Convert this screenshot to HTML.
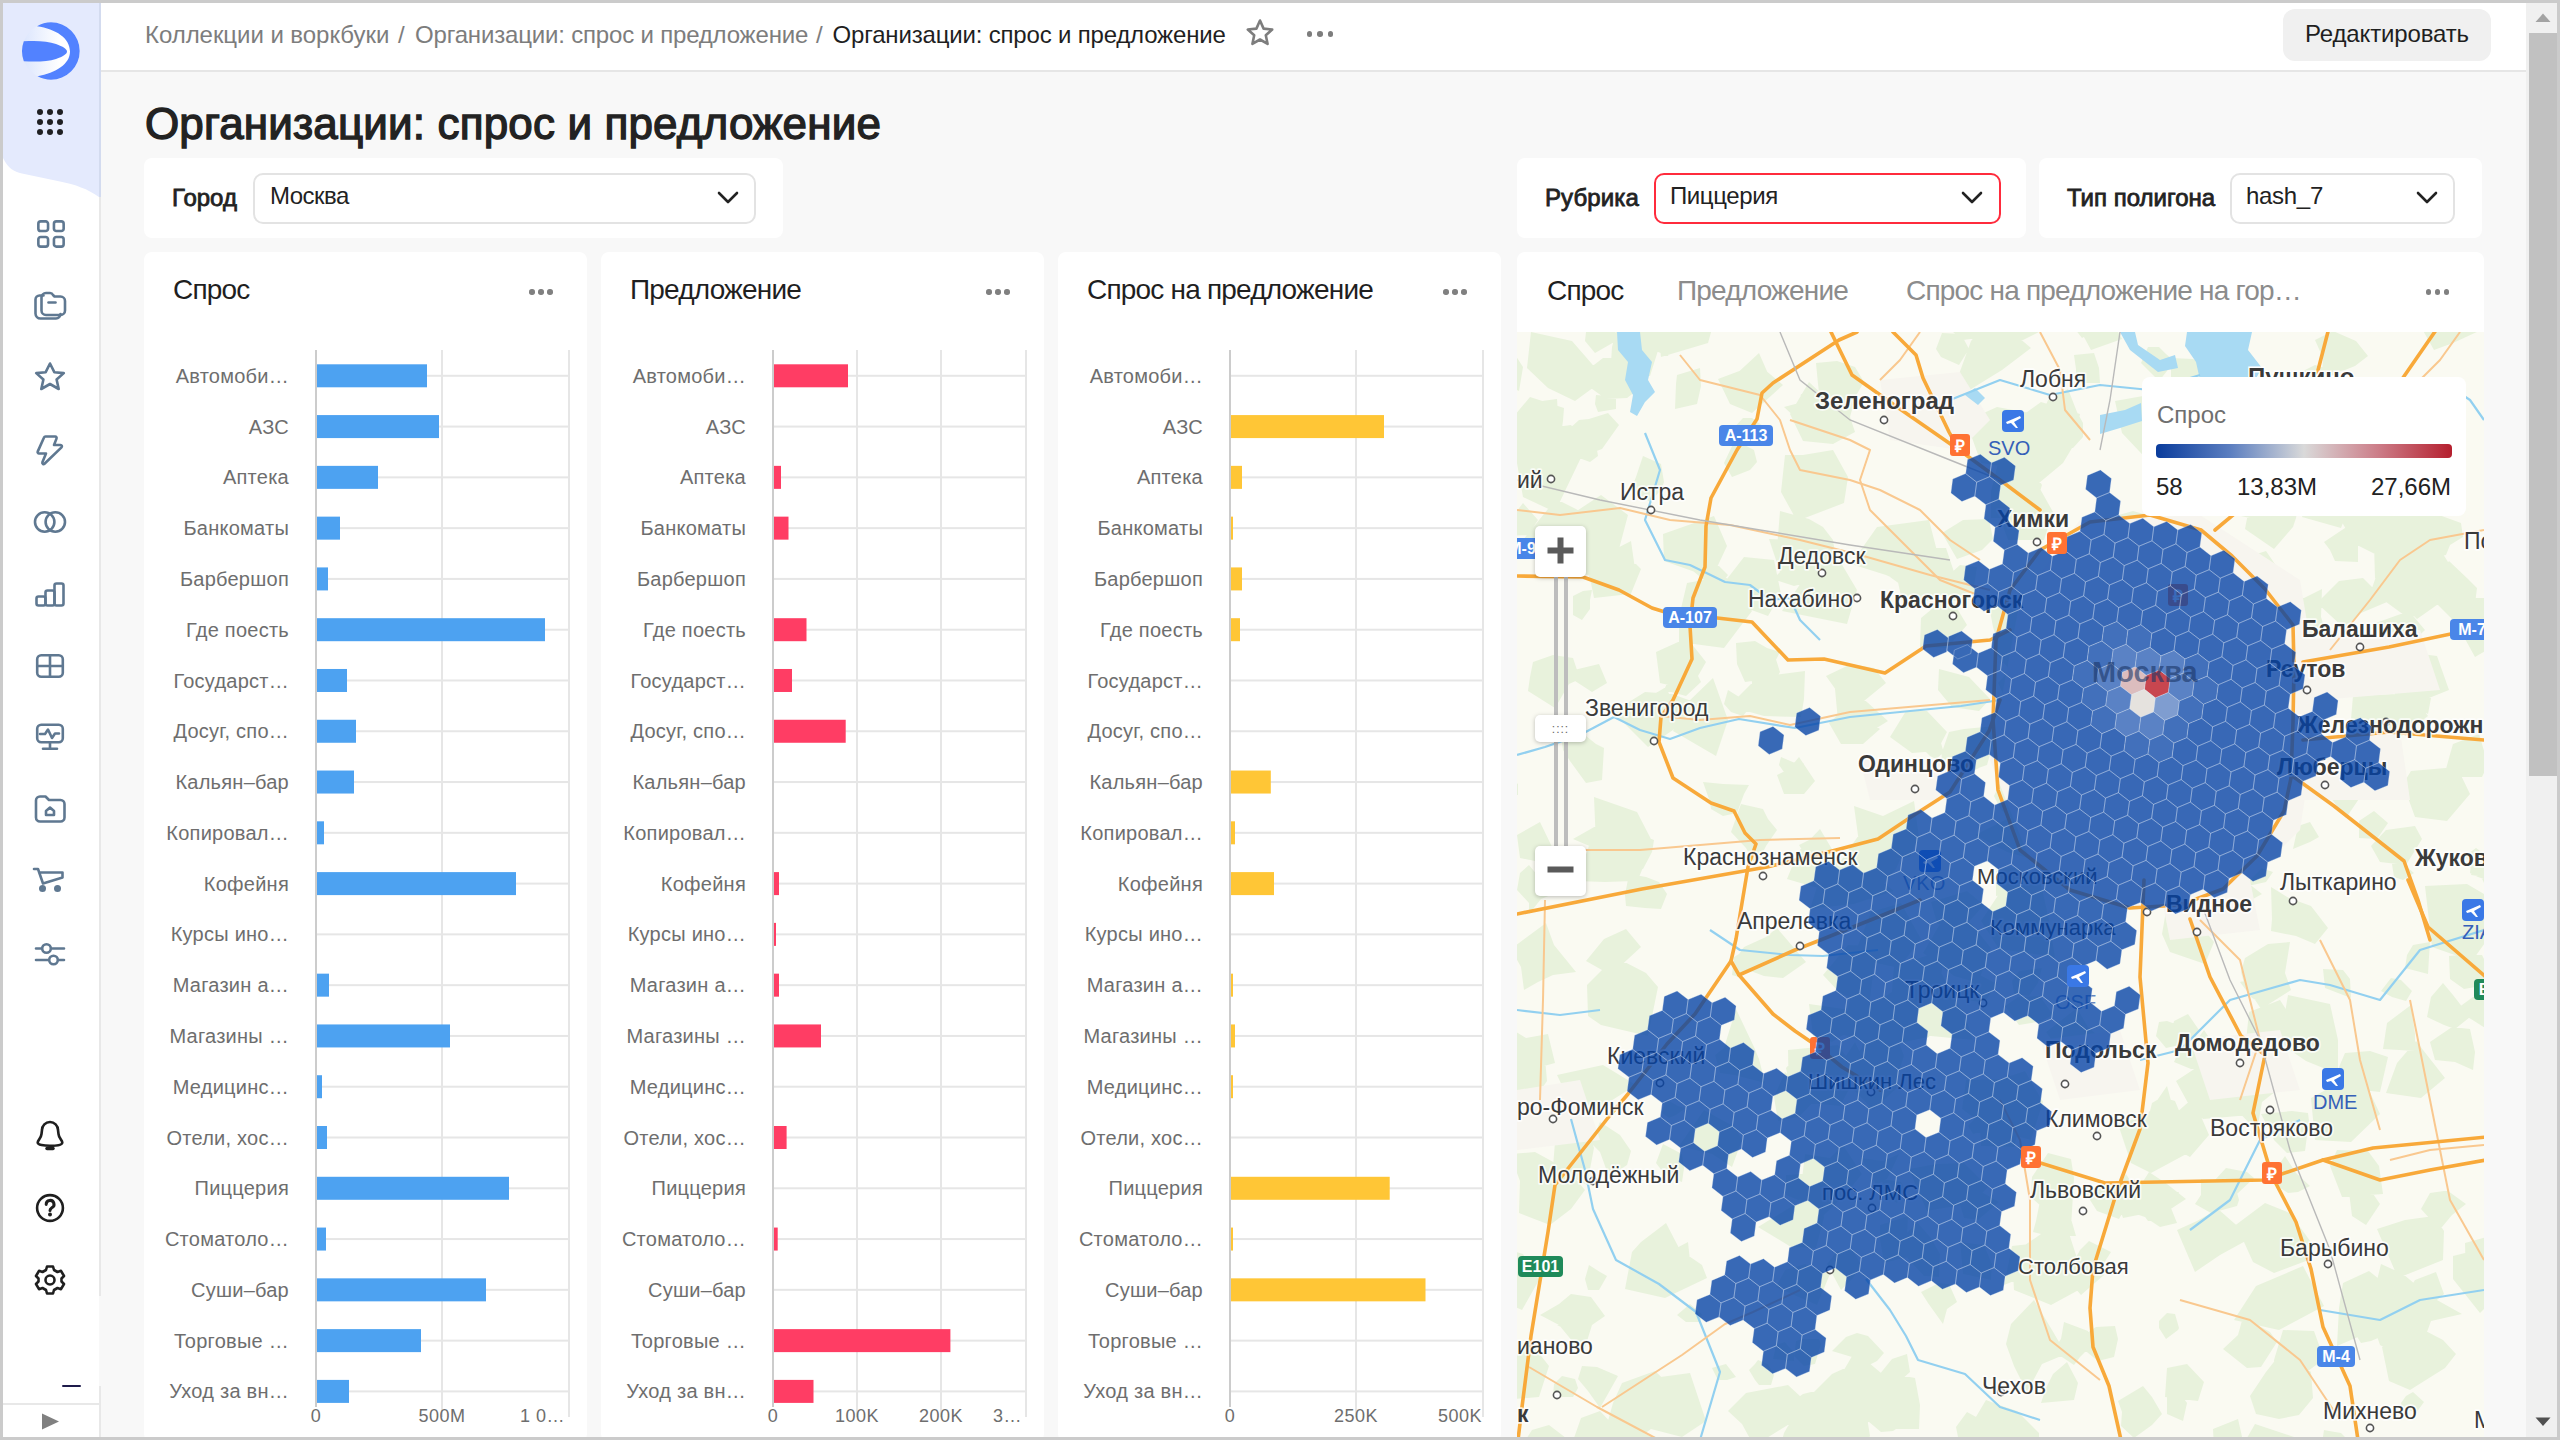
<!DOCTYPE html><html><head><meta charset="utf-8"><style>
*{margin:0;padding:0;box-sizing:border-box}
html,body{width:2560px;height:1440px;overflow:hidden;background:#cbcbcb;font-family:"Liberation Sans",sans-serif}
.a{position:absolute}
.t{position:absolute;line-height:1;white-space:nowrap}
svg{position:absolute;overflow:visible}
</style></head><body><div class="a" style="left:3px;top:3px;width:2554px;height:1434px;background:#f8f8f8;"></div>
<div class="a" style="left:101px;top:3px;width:2425px;height:68px;background:#ffffff;"></div>
<div class="a" style="left:101px;top:70px;width:2425px;height:2px;background:#e6e6e6;"></div>
<div class="a" style="left:3px;top:3px;width:96px;height:1434px;background:#ffffff;"></div>
<div class="a" style="left:99px;top:3px;width:2px;height:1293px;background:#e8e8e8;"></div>
<div class="a" style="left:99px;top:1386px;width:2px;height:51px;background:#e8e8e8;"></div>
<div class="a" style="left:3px;top:1403px;width:98px;height:2px;background:#e8e8e8;"></div>
<svg style="left:0;top:0" width="110" height="210"><path d="M3 3H99V197C88 189 75 184.5 60 181.5L22 173.5C14 172 8 168 3 158Z" fill="#e4eafd"/><rect x="99" y="3" width="2" height="194" fill="#d3dbef"/></svg>
<div class="a" style="left:36.9px;top:108.9px;width:6.2px;height:6.2px;border-radius:50%;background:#1f2023"></div>
<div class="a" style="left:46.9px;top:108.9px;width:6.2px;height:6.2px;border-radius:50%;background:#1f2023"></div>
<div class="a" style="left:56.9px;top:108.9px;width:6.2px;height:6.2px;border-radius:50%;background:#1f2023"></div>
<div class="a" style="left:36.9px;top:118.9px;width:6.2px;height:6.2px;border-radius:50%;background:#1f2023"></div>
<div class="a" style="left:46.9px;top:118.9px;width:6.2px;height:6.2px;border-radius:50%;background:#1f2023"></div>
<div class="a" style="left:56.9px;top:118.9px;width:6.2px;height:6.2px;border-radius:50%;background:#1f2023"></div>
<div class="a" style="left:36.9px;top:128.9px;width:6.2px;height:6.2px;border-radius:50%;background:#1f2023"></div>
<div class="a" style="left:46.9px;top:128.9px;width:6.2px;height:6.2px;border-radius:50%;background:#1f2023"></div>
<div class="a" style="left:56.9px;top:128.9px;width:6.2px;height:6.2px;border-radius:50%;background:#1f2023"></div>
<svg style="left:31.0px;top:213.7px" width="40" height="40" viewBox="-20 -20 40 40" fill="none" stroke="#5f7891" stroke-width="2.6" stroke-linecap="round" stroke-linejoin="round"><rect x="-12.65" y="-12.65" width="9.7" height="9.7" rx="2.4"/><rect x="2.95" y="-12.65" width="9.7" height="9.7" rx="2.4"/><rect x="-12.65" y="2.95" width="9.7" height="9.7" rx="2.4"/><rect x="2.95" y="2.95" width="9.7" height="9.7" rx="2.4"/></svg>
<svg style="left:30.0px;top:286.0px" width="40" height="40" viewBox="-20 -20 40 40" fill="none" stroke="#5f7891" stroke-width="2.6" stroke-linecap="round" stroke-linejoin="round"><path d="M-6.5 -10.5H-10.5A4 4 0 0 0 -14.5 -6.5V7.5A5 5 0 0 0 -9.5 12.5H6A4.5 4.5 0 0 0 10.5 8"/><path d="M-8.5 -8.5A4.5 4.5 0 0 1 -4 -13H0A3.5 3.5 0 0 1 3 -11L4.5 -9.5H10.5A4.5 4.5 0 0 1 15 -5V4.5A4.5 4.5 0 0 1 10.5 9H-4A4.5 4.5 0 0 1 -8.5 4.5Z"/><path d="M-1.5 -3.5H5.5"/></svg>
<svg style="left:30.0px;top:357.0px" width="40" height="40" viewBox="-20 -20 40 40" fill="none" stroke="#5f7891" stroke-width="2.6" stroke-linecap="round" stroke-linejoin="round"><path d="M0 -13.5L4.3 -4.8L13.8 -3.9L6.6 2.5L8.7 12L0 7L-8.7 12L-6.6 2.5L-13.8 -3.9L-4.3 -4.8Z"/></svg>
<svg style="left:30.0px;top:429.6px" width="40" height="40" viewBox="-20 -20 40 40" fill="none" stroke="#5f7891" stroke-width="2.6" stroke-linecap="round" stroke-linejoin="round"><path d="M-4.5 -13.5H5.2A1.5 1.5 0 0 1 6.5 -11.4L4 -5H10.5A1.4 1.4 0 0 1 11.5 -2.6L-5.5 13.7A1.3 1.3 0 0 1 -7.6 12.3L-4 3.5H-11A1.4 1.4 0 0 1 -12.3 1.6L-6 -12.5A1.6 1.6 0 0 1 -4.5 -13.5Z"/></svg>
<svg style="left:30.0px;top:502.0px" width="40" height="40" viewBox="-20 -20 40 40" fill="none" stroke="#5f7891" stroke-width="2.6" stroke-linecap="round" stroke-linejoin="round"><circle cx="-5.3" cy="0" r="9.7"/><circle cx="5.3" cy="0" r="9.7"/></svg>
<svg style="left:30.0px;top:574.0px" width="40" height="40" viewBox="-20 -20 40 40" fill="none" stroke="#5f7891" stroke-width="2.6" stroke-linecap="round" stroke-linejoin="round"><rect x="-13.5" y="2.5" width="9" height="9" rx="2"/><rect x="-4.5" y="-3.5" width="9" height="15" rx="2"/><rect x="4.5" y="-10.5" width="9" height="22" rx="2"/></svg>
<svg style="left:29.5px;top:645.7px" width="40" height="40" viewBox="-20 -20 40 40" fill="none" stroke="#5f7891" stroke-width="2.6" stroke-linecap="round" stroke-linejoin="round"><rect x="-12.8" y="-10.8" width="25.6" height="21.6" rx="4"/><path d="M-12.8 0H12.8M0 -10.8V10.8"/></svg>
<svg style="left:29.5px;top:717.4px" width="40" height="40" viewBox="-20 -20 40 40" fill="none" stroke="#5f7891" stroke-width="2.6" stroke-linecap="round" stroke-linejoin="round"><rect x="-12.8" y="-12.2" width="25.6" height="17.5" rx="4"/><path d="M-10 -3H-5L-2 -7.5L2 1L5 -3.5H9"/><path d="M0 5.3V11.5M-7 11.8H7"/></svg>
<svg style="left:29.799999999999997px;top:789.4px" width="40" height="40" viewBox="-20 -20 40 40" fill="none" stroke="#5f7891" stroke-width="2.6" stroke-linecap="round" stroke-linejoin="round"><path d="M-14 -8.5A4 4 0 0 1 -10 -12.5H-4.5L-1 -9H10.5A4 4 0 0 1 14.5 -5V8.5A4 4 0 0 1 10.5 12.5H-10A4 4 0 0 1 -14 8.5Z"/><path d="M-4 6H4V2L0 -1.5L-4 2Z"/></svg>
<svg style="left:29.0px;top:861.5px" width="40" height="40" viewBox="-20 -20 40 40" fill="none" stroke="#5f7891" stroke-width="2.6" stroke-linecap="round" stroke-linejoin="round"><path d="M-15 -13H-11L-6 1.5L13.5 -4.5V-9.5H-9"/></svg>
<div class="a" style="left:38.5px;top:884.5px;width:7px;height:7px;border-radius:50%;background:#5f7891"></div><div class="a" style="left:54px;top:884.5px;width:7px;height:7px;border-radius:50%;background:#5f7891"></div>
<svg style="left:29.799999999999997px;top:934.0px" width="40" height="40" viewBox="-20 -20 40 40" fill="none" stroke="#5f7891" stroke-width="2.6" stroke-linecap="round" stroke-linejoin="round"><path d="M-14 -5.5H14M-14 6H14"/><circle cx="-3.5" cy="-5.5" r="4.3" fill="#fff"/><circle cx="3.5" cy="6" r="4.3" fill="#fff"/></svg>
<svg style="left:29.700000000000003px;top:1116.0px" width="40" height="40" viewBox="-20 -20 40 40" fill="none" stroke="#1f1f1f" stroke-width="2.6" stroke-linecap="round" stroke-linejoin="round"><path d="M-12.3 6.5C-12.3 4 -9 3 -8.5 -2L-8 -6A8 8 0 0 1 8 -6L8.5 -2C9 3 12.3 4 12.3 6.5C12.3 9 6 9.8 0 9.8C-6 9.8 -12.3 9 -12.3 6.5Z"/><path d="M-3 12.5H3" stroke-width="3.5"/></svg>
<svg style="left:30.0px;top:1188.0px" width="40" height="40" viewBox="-20 -20 40 40" fill="none" stroke="#1f1f1f" stroke-width="2.6" stroke-linecap="round" stroke-linejoin="round"><circle cx="0" cy="0" r="12.9"/><path d="M-3.8 -3.6A3.9 3.9 0 1 1 1.6 -0.1C0.5 0.6 0 1.2 0 2.6" stroke-width="3"/><circle cx="0" cy="6.5" r="2" fill="#1f1f1f" stroke="none"/></svg>
<svg style="left:29.700000000000003px;top:1260.0px" width="40" height="40" viewBox="-20 -20 40 40" fill="none" stroke="#1f1f1f" stroke-width="2.6" stroke-linecap="round" stroke-linejoin="round"><path d="M-3 -13.5H3L4 -10L7.5 -8L11 -9.2L14 -4L11.5 -1.5V1.5L14 4L11 9.2L7.5 8L4 10L3 13.5H-3L-4 10L-7.5 8L-11 9.2L-14 4L-11.5 1.5V-1.5L-14 -4L-11 -9.2L-7.5 -8L-4 -10Z"/><circle cx="0" cy="0" r="4.5"/></svg>
<div class="a" style="left:62px;top:1385px;width:19px;height:2px;background:#1e1b4b;border-radius:1px"></div>
<svg style="left:40px;top:1412px" width="22" height="20"><path d="M2 1.5L19 9.5L2 17.5Z" fill="#808080"/></svg>
<div class="a" style="left:2526px;top:3px;width:31px;height:1434px;background:#f0f0f0;"></div>
<div class="a" style="left:2529px;top:33px;width:28px;height:743px;background:#c1c1c1;"></div>
<svg style="left:2535px;top:13px" width="16" height="10"><path d="M0.5 9L8 0.5L15.5 9Z" fill="#a3a3a3"/></svg>
<svg style="left:2535px;top:1417px" width="16" height="10"><path d="M0.5 0.5L8 9L15.5 0.5Z" fill="#505050"/></svg>
<div class="t" style="top:22.68px;font-size:24px;color:#7d7d7d;letter-spacing:-0.05px;left:145px;">Коллекции и воркбуки</div>
<div class="t" style="top:22.68px;font-size:24px;color:#7d7d7d;left:398px;">/</div>
<div class="t" style="top:22.68px;font-size:24px;color:#7d7d7d;letter-spacing:-0.18px;left:415px;">Организации: спрос и предложение</div>
<div class="t" style="top:22.68px;font-size:24px;color:#7d7d7d;left:816px;">/</div>
<div class="t" style="top:22.68px;font-size:24px;color:#1f1f1f;letter-spacing:-0.18px;left:832.5px;">Организации: спрос и предложение</div>
<svg style="left:1245px;top:18px" width="30" height="30" viewBox="0 0 30 30"><path d="M15 2.5L18.6 10.6L27.2 11.5L20.8 17.3L22.6 25.9L15 21.5L7.4 25.9L9.2 17.3L2.8 11.5L11.4 10.6Z" fill="none" stroke="#7d7d7d" stroke-width="2.6" stroke-linejoin="round"/></svg>
<div class="a" style="left:1306.7px;top:30.999999999999996px;width:5.6px;height:5.6px;border-radius:50%;background:#7d7d7d"></div>
<div class="a" style="left:1317.2px;top:30.999999999999996px;width:5.6px;height:5.6px;border-radius:50%;background:#7d7d7d"></div>
<div class="a" style="left:1327.7px;top:30.999999999999996px;width:5.6px;height:5.6px;border-radius:50%;background:#7d7d7d"></div>
<div class="a" style="left:2283px;top:9px;width:208px;height:52px;background:#f0f0f0;border-radius:12px"></div>
<div class="t" style="top:22.18px;font-size:24px;color:#1f1f1f;letter-spacing:-0.15px;left:2305px;">Редактировать</div>
<div class="t" style="top:102.15px;font-size:44px;color:#222;letter-spacing:0.15px;left:145px;-webkit-text-stroke:1.3px #222;">Организации: спрос и предложение</div>
<div class="a" style="left:144px;top:158px;width:639px;height:80px;background:#ffffff;border-radius:8px"></div>
<div class="t" style="top:185.68px;font-size:24px;color:#222;left:172px;-webkit-text-stroke:0.8px #222;">Город</div>
<div class="a" style="left:253px;top:173px;width:503px;height:51px;background:#ffffff;border:2px solid #e3e3e3;border-radius:10px"></div>
<div class="t" style="top:184.48px;font-size:24px;color:#222;letter-spacing:-0.5px;left:270px;">Москва</div>
<svg style="left:717px;top:191px" width="22" height="14" viewBox="0 0 22 14"><path d="M2 2L11 11L20 2" fill="none" stroke="#222" stroke-width="2.6" stroke-linecap="round" stroke-linejoin="round"/></svg>
<div class="a" style="left:1517px;top:158px;width:509px;height:80px;background:#ffffff;border-radius:8px"></div>
<div class="t" style="top:185.68px;font-size:24px;color:#222;letter-spacing:0.1px;left:1545px;-webkit-text-stroke:0.8px #222;">Рубрика</div>
<div class="a" style="left:1654px;top:173px;width:347px;height:51px;background:#ffffff;border:2px solid #ff2b3c;border-radius:10px"></div>
<div class="t" style="top:184.48px;font-size:24px;color:#222;letter-spacing:-0.4px;left:1670px;">Пиццерия</div>
<svg style="left:1961px;top:191px" width="22" height="14" viewBox="0 0 22 14"><path d="M2 2L11 11L20 2" fill="none" stroke="#222" stroke-width="2.6" stroke-linecap="round" stroke-linejoin="round"/></svg>
<div class="a" style="left:2039px;top:158px;width:443px;height:80px;background:#ffffff;border-radius:8px"></div>
<div class="t" style="top:185.68px;font-size:24px;color:#222;left:2067px;-webkit-text-stroke:0.8px #222;">Тип полигона</div>
<div class="a" style="left:2230px;top:173px;width:225px;height:51px;background:#ffffff;border:2px solid #e3e3e3;border-radius:10px"></div>
<div class="t" style="top:184.48px;font-size:24px;color:#222;letter-spacing:-0.3px;left:2246px;">hash_7</div>
<svg style="left:2416px;top:191px" width="22" height="14" viewBox="0 0 22 14"><path d="M2 2L11 11L20 2" fill="none" stroke="#222" stroke-width="2.6" stroke-linecap="round" stroke-linejoin="round"/></svg>
<div class="a" style="left:144px;top:252px;width:443px;height:1190px;background:#ffffff;border-radius:8px"></div>
<div class="t" style="top:276.10px;font-size:28px;color:#1f1f1f;letter-spacing:-0.8px;left:173px;">Спрос</div>
<div class="a" style="left:529.3px;top:289.3px;width:5.4px;height:5.4px;border-radius:50%;background:#808080"></div>
<div class="a" style="left:538.3px;top:289.3px;width:5.4px;height:5.4px;border-radius:50%;background:#808080"></div>
<div class="a" style="left:547.3px;top:289.3px;width:5.4px;height:5.4px;border-radius:50%;background:#808080"></div>
<svg style="left:0;top:0" width="2560" height="1440"><rect x="316" y="374.80" width="253" height="2" fill="#e6e6e6"/><rect x="316" y="425.58" width="253" height="2" fill="#e6e6e6"/><rect x="316" y="476.36" width="253" height="2" fill="#e6e6e6"/><rect x="316" y="527.14" width="253" height="2" fill="#e6e6e6"/><rect x="316" y="577.92" width="253" height="2" fill="#e6e6e6"/><rect x="316" y="628.70" width="253" height="2" fill="#e6e6e6"/><rect x="316" y="679.48" width="253" height="2" fill="#e6e6e6"/><rect x="316" y="730.26" width="253" height="2" fill="#e6e6e6"/><rect x="316" y="781.04" width="253" height="2" fill="#e6e6e6"/><rect x="316" y="831.82" width="253" height="2" fill="#e6e6e6"/><rect x="316" y="882.60" width="253" height="2" fill="#e6e6e6"/><rect x="316" y="933.38" width="253" height="2" fill="#e6e6e6"/><rect x="316" y="984.16" width="253" height="2" fill="#e6e6e6"/><rect x="316" y="1034.94" width="253" height="2" fill="#e6e6e6"/><rect x="316" y="1085.72" width="253" height="2" fill="#e6e6e6"/><rect x="316" y="1136.50" width="253" height="2" fill="#e6e6e6"/><rect x="316" y="1187.28" width="253" height="2" fill="#e6e6e6"/><rect x="316" y="1238.06" width="253" height="2" fill="#e6e6e6"/><rect x="316" y="1288.84" width="253" height="2" fill="#e6e6e6"/><rect x="316" y="1339.62" width="253" height="2" fill="#e6e6e6"/><rect x="316" y="1390.40" width="253" height="2" fill="#e6e6e6"/><rect x="441" y="350" width="2" height="1067" fill="#e6e6e6"/><rect x="568" y="350" width="2" height="1067" fill="#e6e6e6"/><rect x="315" y="350" width="2" height="1057" fill="#cccccc"/><rect x="317" y="364.30" width="110.00" height="23" fill="#4da2f1"/><rect x="317" y="415.08" width="122.00" height="23" fill="#4da2f1"/><rect x="317" y="465.86" width="61.00" height="23" fill="#4da2f1"/><rect x="317" y="516.64" width="23.00" height="23" fill="#4da2f1"/><rect x="317" y="567.42" width="11.00" height="23" fill="#4da2f1"/><rect x="317" y="618.20" width="228.00" height="23" fill="#4da2f1"/><rect x="317" y="668.98" width="30.00" height="23" fill="#4da2f1"/><rect x="317" y="719.76" width="39.00" height="23" fill="#4da2f1"/><rect x="317" y="770.54" width="37.00" height="23" fill="#4da2f1"/><rect x="317" y="821.32" width="7.00" height="23" fill="#4da2f1"/><rect x="317" y="872.10" width="199.00" height="23" fill="#4da2f1"/><rect x="317" y="973.66" width="12.00" height="23" fill="#4da2f1"/><rect x="317" y="1024.44" width="133.00" height="23" fill="#4da2f1"/><rect x="317" y="1075.22" width="5.00" height="23" fill="#4da2f1"/><rect x="317" y="1126.00" width="10.00" height="23" fill="#4da2f1"/><rect x="317" y="1176.78" width="192.00" height="23" fill="#4da2f1"/><rect x="317" y="1227.56" width="9.00" height="23" fill="#4da2f1"/><rect x="317" y="1278.34" width="169.00" height="23" fill="#4da2f1"/><rect x="317" y="1329.12" width="104.00" height="23" fill="#4da2f1"/><rect x="317" y="1379.90" width="32.00" height="23" fill="#4da2f1"/></svg>
<div class="t" style="top:365.87px;font-size:20px;color:#6e6e6e;letter-spacing:0.25px;right:2271px;text-align:right;">Автомоби…</div>
<div class="t" style="top:416.65px;font-size:20px;color:#6e6e6e;letter-spacing:0.25px;right:2271px;text-align:right;">АЗС</div>
<div class="t" style="top:467.43px;font-size:20px;color:#6e6e6e;letter-spacing:0.25px;right:2271px;text-align:right;">Аптека</div>
<div class="t" style="top:518.21px;font-size:20px;color:#6e6e6e;letter-spacing:0.25px;right:2271px;text-align:right;">Банкоматы</div>
<div class="t" style="top:568.99px;font-size:20px;color:#6e6e6e;letter-spacing:0.25px;right:2271px;text-align:right;">Барбершоп</div>
<div class="t" style="top:619.77px;font-size:20px;color:#6e6e6e;letter-spacing:0.25px;right:2271px;text-align:right;">Где поесть</div>
<div class="t" style="top:670.55px;font-size:20px;color:#6e6e6e;letter-spacing:0.25px;right:2271px;text-align:right;">Государст…</div>
<div class="t" style="top:721.33px;font-size:20px;color:#6e6e6e;letter-spacing:0.25px;right:2271px;text-align:right;">Досуг, спо…</div>
<div class="t" style="top:772.11px;font-size:20px;color:#6e6e6e;letter-spacing:0.25px;right:2271px;text-align:right;">Кальян–бар</div>
<div class="t" style="top:822.89px;font-size:20px;color:#6e6e6e;letter-spacing:0.25px;right:2271px;text-align:right;">Копировал…</div>
<div class="t" style="top:873.67px;font-size:20px;color:#6e6e6e;letter-spacing:0.25px;right:2271px;text-align:right;">Кофейня</div>
<div class="t" style="top:924.45px;font-size:20px;color:#6e6e6e;letter-spacing:0.25px;right:2271px;text-align:right;">Курсы ино…</div>
<div class="t" style="top:975.23px;font-size:20px;color:#6e6e6e;letter-spacing:0.25px;right:2271px;text-align:right;">Магазин а…</div>
<div class="t" style="top:1026.01px;font-size:20px;color:#6e6e6e;letter-spacing:0.25px;right:2271px;text-align:right;">Магазины …</div>
<div class="t" style="top:1076.79px;font-size:20px;color:#6e6e6e;letter-spacing:0.25px;right:2271px;text-align:right;">Медицинс…</div>
<div class="t" style="top:1127.57px;font-size:20px;color:#6e6e6e;letter-spacing:0.25px;right:2271px;text-align:right;">Отели, хос…</div>
<div class="t" style="top:1178.35px;font-size:20px;color:#6e6e6e;letter-spacing:0.25px;right:2271px;text-align:right;">Пиццерия</div>
<div class="t" style="top:1229.13px;font-size:20px;color:#6e6e6e;letter-spacing:0.25px;right:2271px;text-align:right;">Стоматоло…</div>
<div class="t" style="top:1279.91px;font-size:20px;color:#6e6e6e;letter-spacing:0.25px;right:2271px;text-align:right;">Суши–бар</div>
<div class="t" style="top:1330.69px;font-size:20px;color:#6e6e6e;letter-spacing:0.25px;right:2271px;text-align:right;">Торговые …</div>
<div class="t" style="top:1381.47px;font-size:20px;color:#6e6e6e;letter-spacing:0.25px;right:2271px;text-align:right;">Уход за вн…</div>
<div class="t" style="top:1406.76px;font-size:18px;color:#6e6e6e;letter-spacing:0.5px;left:16px;width:600px;text-align:center;">0</div>
<div class="t" style="top:1406.76px;font-size:18px;color:#6e6e6e;letter-spacing:0.5px;left:142px;width:600px;text-align:center;">500M</div>
<div class="t" style="top:1406.76px;font-size:18px;color:#6e6e6e;letter-spacing:0.5px;right:1995px;text-align:right;">1 0…</div>
<div class="a" style="left:601px;top:252px;width:443px;height:1190px;background:#ffffff;border-radius:8px"></div>
<div class="t" style="top:276.10px;font-size:28px;color:#1f1f1f;letter-spacing:-0.8px;left:630px;">Предложение</div>
<div class="a" style="left:986.3px;top:289.3px;width:5.4px;height:5.4px;border-radius:50%;background:#808080"></div>
<div class="a" style="left:995.3px;top:289.3px;width:5.4px;height:5.4px;border-radius:50%;background:#808080"></div>
<div class="a" style="left:1004.3px;top:289.3px;width:5.4px;height:5.4px;border-radius:50%;background:#808080"></div>
<svg style="left:0;top:0" width="2560" height="1440"><rect x="773" y="374.80" width="253" height="2" fill="#e6e6e6"/><rect x="773" y="425.58" width="253" height="2" fill="#e6e6e6"/><rect x="773" y="476.36" width="253" height="2" fill="#e6e6e6"/><rect x="773" y="527.14" width="253" height="2" fill="#e6e6e6"/><rect x="773" y="577.92" width="253" height="2" fill="#e6e6e6"/><rect x="773" y="628.70" width="253" height="2" fill="#e6e6e6"/><rect x="773" y="679.48" width="253" height="2" fill="#e6e6e6"/><rect x="773" y="730.26" width="253" height="2" fill="#e6e6e6"/><rect x="773" y="781.04" width="253" height="2" fill="#e6e6e6"/><rect x="773" y="831.82" width="253" height="2" fill="#e6e6e6"/><rect x="773" y="882.60" width="253" height="2" fill="#e6e6e6"/><rect x="773" y="933.38" width="253" height="2" fill="#e6e6e6"/><rect x="773" y="984.16" width="253" height="2" fill="#e6e6e6"/><rect x="773" y="1034.94" width="253" height="2" fill="#e6e6e6"/><rect x="773" y="1085.72" width="253" height="2" fill="#e6e6e6"/><rect x="773" y="1136.50" width="253" height="2" fill="#e6e6e6"/><rect x="773" y="1187.28" width="253" height="2" fill="#e6e6e6"/><rect x="773" y="1238.06" width="253" height="2" fill="#e6e6e6"/><rect x="773" y="1288.84" width="253" height="2" fill="#e6e6e6"/><rect x="773" y="1339.62" width="253" height="2" fill="#e6e6e6"/><rect x="773" y="1390.40" width="253" height="2" fill="#e6e6e6"/><rect x="856" y="350" width="2" height="1067" fill="#e6e6e6"/><rect x="940" y="350" width="2" height="1067" fill="#e6e6e6"/><rect x="1025" y="350" width="2" height="1067" fill="#e6e6e6"/><rect x="772" y="350" width="2" height="1057" fill="#cccccc"/><rect x="774" y="364.30" width="74.00" height="23" fill="#ff3d64"/><rect x="774" y="465.86" width="7.00" height="23" fill="#ff3d64"/><rect x="774" y="516.64" width="14.50" height="23" fill="#ff3d64"/><rect x="774" y="618.20" width="32.50" height="23" fill="#ff3d64"/><rect x="774" y="668.98" width="18.00" height="23" fill="#ff3d64"/><rect x="774" y="719.76" width="71.70" height="23" fill="#ff3d64"/><rect x="774" y="872.10" width="5.00" height="23" fill="#ff3d64"/><rect x="774" y="922.88" width="2.00" height="23" fill="#ff3d64"/><rect x="774" y="973.66" width="5.00" height="23" fill="#ff3d64"/><rect x="774" y="1024.44" width="47.00" height="23" fill="#ff3d64"/><rect x="774" y="1126.00" width="12.60" height="23" fill="#ff3d64"/><rect x="774" y="1227.56" width="3.70" height="23" fill="#ff3d64"/><rect x="774" y="1329.12" width="176.40" height="23" fill="#ff3d64"/><rect x="774" y="1379.90" width="39.50" height="23" fill="#ff3d64"/></svg>
<div class="t" style="top:365.87px;font-size:20px;color:#6e6e6e;letter-spacing:0.25px;right:1814px;text-align:right;">Автомоби…</div>
<div class="t" style="top:416.65px;font-size:20px;color:#6e6e6e;letter-spacing:0.25px;right:1814px;text-align:right;">АЗС</div>
<div class="t" style="top:467.43px;font-size:20px;color:#6e6e6e;letter-spacing:0.25px;right:1814px;text-align:right;">Аптека</div>
<div class="t" style="top:518.21px;font-size:20px;color:#6e6e6e;letter-spacing:0.25px;right:1814px;text-align:right;">Банкоматы</div>
<div class="t" style="top:568.99px;font-size:20px;color:#6e6e6e;letter-spacing:0.25px;right:1814px;text-align:right;">Барбершоп</div>
<div class="t" style="top:619.77px;font-size:20px;color:#6e6e6e;letter-spacing:0.25px;right:1814px;text-align:right;">Где поесть</div>
<div class="t" style="top:670.55px;font-size:20px;color:#6e6e6e;letter-spacing:0.25px;right:1814px;text-align:right;">Государст…</div>
<div class="t" style="top:721.33px;font-size:20px;color:#6e6e6e;letter-spacing:0.25px;right:1814px;text-align:right;">Досуг, спо…</div>
<div class="t" style="top:772.11px;font-size:20px;color:#6e6e6e;letter-spacing:0.25px;right:1814px;text-align:right;">Кальян–бар</div>
<div class="t" style="top:822.89px;font-size:20px;color:#6e6e6e;letter-spacing:0.25px;right:1814px;text-align:right;">Копировал…</div>
<div class="t" style="top:873.67px;font-size:20px;color:#6e6e6e;letter-spacing:0.25px;right:1814px;text-align:right;">Кофейня</div>
<div class="t" style="top:924.45px;font-size:20px;color:#6e6e6e;letter-spacing:0.25px;right:1814px;text-align:right;">Курсы ино…</div>
<div class="t" style="top:975.23px;font-size:20px;color:#6e6e6e;letter-spacing:0.25px;right:1814px;text-align:right;">Магазин а…</div>
<div class="t" style="top:1026.01px;font-size:20px;color:#6e6e6e;letter-spacing:0.25px;right:1814px;text-align:right;">Магазины …</div>
<div class="t" style="top:1076.79px;font-size:20px;color:#6e6e6e;letter-spacing:0.25px;right:1814px;text-align:right;">Медицинс…</div>
<div class="t" style="top:1127.57px;font-size:20px;color:#6e6e6e;letter-spacing:0.25px;right:1814px;text-align:right;">Отели, хос…</div>
<div class="t" style="top:1178.35px;font-size:20px;color:#6e6e6e;letter-spacing:0.25px;right:1814px;text-align:right;">Пиццерия</div>
<div class="t" style="top:1229.13px;font-size:20px;color:#6e6e6e;letter-spacing:0.25px;right:1814px;text-align:right;">Стоматоло…</div>
<div class="t" style="top:1279.91px;font-size:20px;color:#6e6e6e;letter-spacing:0.25px;right:1814px;text-align:right;">Суши–бар</div>
<div class="t" style="top:1330.69px;font-size:20px;color:#6e6e6e;letter-spacing:0.25px;right:1814px;text-align:right;">Торговые …</div>
<div class="t" style="top:1381.47px;font-size:20px;color:#6e6e6e;letter-spacing:0.25px;right:1814px;text-align:right;">Уход за вн…</div>
<div class="t" style="top:1406.76px;font-size:18px;color:#6e6e6e;letter-spacing:0.5px;left:473px;width:600px;text-align:center;">0</div>
<div class="t" style="top:1406.76px;font-size:18px;color:#6e6e6e;letter-spacing:0.5px;left:557px;width:600px;text-align:center;">100K</div>
<div class="t" style="top:1406.76px;font-size:18px;color:#6e6e6e;letter-spacing:0.5px;left:641px;width:600px;text-align:center;">200K</div>
<div class="t" style="top:1406.76px;font-size:18px;color:#6e6e6e;letter-spacing:0.5px;right:1538px;text-align:right;">3…</div>
<div class="a" style="left:1058px;top:252px;width:443px;height:1190px;background:#ffffff;border-radius:8px"></div>
<div class="t" style="top:276.10px;font-size:28px;color:#1f1f1f;letter-spacing:-0.8px;left:1087px;">Спрос на предложение</div>
<div class="a" style="left:1443.3px;top:289.3px;width:5.4px;height:5.4px;border-radius:50%;background:#808080"></div>
<div class="a" style="left:1452.3px;top:289.3px;width:5.4px;height:5.4px;border-radius:50%;background:#808080"></div>
<div class="a" style="left:1461.3px;top:289.3px;width:5.4px;height:5.4px;border-radius:50%;background:#808080"></div>
<svg style="left:0;top:0" width="2560" height="1440"><rect x="1230" y="374.80" width="253" height="2" fill="#e6e6e6"/><rect x="1230" y="425.58" width="253" height="2" fill="#e6e6e6"/><rect x="1230" y="476.36" width="253" height="2" fill="#e6e6e6"/><rect x="1230" y="527.14" width="253" height="2" fill="#e6e6e6"/><rect x="1230" y="577.92" width="253" height="2" fill="#e6e6e6"/><rect x="1230" y="628.70" width="253" height="2" fill="#e6e6e6"/><rect x="1230" y="679.48" width="253" height="2" fill="#e6e6e6"/><rect x="1230" y="730.26" width="253" height="2" fill="#e6e6e6"/><rect x="1230" y="781.04" width="253" height="2" fill="#e6e6e6"/><rect x="1230" y="831.82" width="253" height="2" fill="#e6e6e6"/><rect x="1230" y="882.60" width="253" height="2" fill="#e6e6e6"/><rect x="1230" y="933.38" width="253" height="2" fill="#e6e6e6"/><rect x="1230" y="984.16" width="253" height="2" fill="#e6e6e6"/><rect x="1230" y="1034.94" width="253" height="2" fill="#e6e6e6"/><rect x="1230" y="1085.72" width="253" height="2" fill="#e6e6e6"/><rect x="1230" y="1136.50" width="253" height="2" fill="#e6e6e6"/><rect x="1230" y="1187.28" width="253" height="2" fill="#e6e6e6"/><rect x="1230" y="1238.06" width="253" height="2" fill="#e6e6e6"/><rect x="1230" y="1288.84" width="253" height="2" fill="#e6e6e6"/><rect x="1230" y="1339.62" width="253" height="2" fill="#e6e6e6"/><rect x="1230" y="1390.40" width="253" height="2" fill="#e6e6e6"/><rect x="1355" y="350" width="2" height="1067" fill="#e6e6e6"/><rect x="1482" y="350" width="2" height="1067" fill="#e6e6e6"/><rect x="1229" y="350" width="2" height="1057" fill="#cccccc"/><rect x="1231" y="415.08" width="153.00" height="23" fill="#ffc636"/><rect x="1231" y="465.86" width="11.00" height="23" fill="#ffc636"/><rect x="1231" y="516.64" width="2.00" height="23" fill="#ffc636"/><rect x="1231" y="567.42" width="11.00" height="23" fill="#ffc636"/><rect x="1231" y="618.20" width="9.00" height="23" fill="#ffc636"/><rect x="1231" y="770.54" width="39.80" height="23" fill="#ffc636"/><rect x="1231" y="821.32" width="4.00" height="23" fill="#ffc636"/><rect x="1231" y="872.10" width="43.00" height="23" fill="#ffc636"/><rect x="1231" y="973.66" width="2.00" height="23" fill="#ffc636"/><rect x="1231" y="1024.44" width="4.00" height="23" fill="#ffc636"/><rect x="1231" y="1075.22" width="2.00" height="23" fill="#ffc636"/><rect x="1231" y="1176.78" width="158.70" height="23" fill="#ffc636"/><rect x="1231" y="1227.56" width="2.00" height="23" fill="#ffc636"/><rect x="1231" y="1278.34" width="194.50" height="23" fill="#ffc636"/></svg>
<div class="t" style="top:365.87px;font-size:20px;color:#6e6e6e;letter-spacing:0.25px;right:1357px;text-align:right;">Автомоби…</div>
<div class="t" style="top:416.65px;font-size:20px;color:#6e6e6e;letter-spacing:0.25px;right:1357px;text-align:right;">АЗС</div>
<div class="t" style="top:467.43px;font-size:20px;color:#6e6e6e;letter-spacing:0.25px;right:1357px;text-align:right;">Аптека</div>
<div class="t" style="top:518.21px;font-size:20px;color:#6e6e6e;letter-spacing:0.25px;right:1357px;text-align:right;">Банкоматы</div>
<div class="t" style="top:568.99px;font-size:20px;color:#6e6e6e;letter-spacing:0.25px;right:1357px;text-align:right;">Барбершоп</div>
<div class="t" style="top:619.77px;font-size:20px;color:#6e6e6e;letter-spacing:0.25px;right:1357px;text-align:right;">Где поесть</div>
<div class="t" style="top:670.55px;font-size:20px;color:#6e6e6e;letter-spacing:0.25px;right:1357px;text-align:right;">Государст…</div>
<div class="t" style="top:721.33px;font-size:20px;color:#6e6e6e;letter-spacing:0.25px;right:1357px;text-align:right;">Досуг, спо…</div>
<div class="t" style="top:772.11px;font-size:20px;color:#6e6e6e;letter-spacing:0.25px;right:1357px;text-align:right;">Кальян–бар</div>
<div class="t" style="top:822.89px;font-size:20px;color:#6e6e6e;letter-spacing:0.25px;right:1357px;text-align:right;">Копировал…</div>
<div class="t" style="top:873.67px;font-size:20px;color:#6e6e6e;letter-spacing:0.25px;right:1357px;text-align:right;">Кофейня</div>
<div class="t" style="top:924.45px;font-size:20px;color:#6e6e6e;letter-spacing:0.25px;right:1357px;text-align:right;">Курсы ино…</div>
<div class="t" style="top:975.23px;font-size:20px;color:#6e6e6e;letter-spacing:0.25px;right:1357px;text-align:right;">Магазин а…</div>
<div class="t" style="top:1026.01px;font-size:20px;color:#6e6e6e;letter-spacing:0.25px;right:1357px;text-align:right;">Магазины …</div>
<div class="t" style="top:1076.79px;font-size:20px;color:#6e6e6e;letter-spacing:0.25px;right:1357px;text-align:right;">Медицинс…</div>
<div class="t" style="top:1127.57px;font-size:20px;color:#6e6e6e;letter-spacing:0.25px;right:1357px;text-align:right;">Отели, хос…</div>
<div class="t" style="top:1178.35px;font-size:20px;color:#6e6e6e;letter-spacing:0.25px;right:1357px;text-align:right;">Пиццерия</div>
<div class="t" style="top:1229.13px;font-size:20px;color:#6e6e6e;letter-spacing:0.25px;right:1357px;text-align:right;">Стоматоло…</div>
<div class="t" style="top:1279.91px;font-size:20px;color:#6e6e6e;letter-spacing:0.25px;right:1357px;text-align:right;">Суши–бар</div>
<div class="t" style="top:1330.69px;font-size:20px;color:#6e6e6e;letter-spacing:0.25px;right:1357px;text-align:right;">Торговые …</div>
<div class="t" style="top:1381.47px;font-size:20px;color:#6e6e6e;letter-spacing:0.25px;right:1357px;text-align:right;">Уход за вн…</div>
<div class="t" style="top:1406.76px;font-size:18px;color:#6e6e6e;letter-spacing:0.5px;left:930px;width:600px;text-align:center;">0</div>
<div class="t" style="top:1406.76px;font-size:18px;color:#6e6e6e;letter-spacing:0.5px;left:1056px;width:600px;text-align:center;">250K</div>
<div class="t" style="top:1406.76px;font-size:18px;color:#6e6e6e;letter-spacing:0.5px;right:1078px;text-align:right;">500K</div>
<div class="a" style="left:1517px;top:252px;width:967px;height:1190px;background:#ffffff;border-radius:8px"></div>
<div class="t" style="top:276.60px;font-size:28px;color:#1f1f1f;letter-spacing:-0.8px;left:1547px;">Спрос</div>
<div class="t" style="top:276.60px;font-size:28px;color:#8c8c8c;letter-spacing:-0.8px;left:1677px;">Предложение</div>
<div class="t" style="top:276.60px;font-size:28px;color:#8c8c8c;letter-spacing:-0.8px;left:1906px;">Спрос на предложение на гор…</div>
<div class="a" style="left:2425.7000000000003px;top:289.3px;width:5.4px;height:5.4px;border-radius:50%;background:#808080"></div>
<div class="a" style="left:2434.7000000000003px;top:289.3px;width:5.4px;height:5.4px;border-radius:50%;background:#808080"></div>
<div class="a" style="left:2443.7000000000003px;top:289.3px;width:5.4px;height:5.4px;border-radius:50%;background:#808080"></div>
<svg style="left:1517px;top:332px" width="967" height="1108" viewBox="1517 332 967 1108" font-family="Liberation Sans, sans-serif">
<defs><clipPath id="mc"><rect x="1517" y="332" width="967" height="1108"/></clipPath></defs><g clip-path="url(#mc)">
<rect x="1517" y="332" width="967" height="1108" fill="#fafaf2"/>
<path d="M1842 489 L1825 502 L1805 499 L1794 472 L1835 464ZM2099 368 L2100 383 L2076 383 L2076 369 L2074 355 L2094 353ZM1824 1218 L1816 1248 L1791 1247 L1758 1227 L1794 1205 L1823 1198ZM1894 891 L1854 904 L1810 909 L1823 867 L1851 857ZM1644 385 L1627 398 L1606 399 L1577 378 L1603 358 L1621 357ZM1524 1262 L1522 1285 L1505 1284 L1493 1281 L1493 1255 L1506 1255 L1513 1258ZM1673 703 L1662 709 L1650 713 L1651 696 L1666 687ZM1848 477 L1844 503 L1797 521 L1781 492 L1785 455 L1803 455 L1833 450ZM2310 1186 L2298 1192 L2288 1193 L2268 1180 L2285 1156 L2296 1173ZM1727 546 L1712 578 L1664 561 L1663 534 L1714 516ZM1920 1405 L1919 1429 L1884 1429 L1869 1404 L1889 1373 L1915 1378ZM1702 1314 L1700 1322 L1686 1322 L1677 1315 L1690 1304 L1697 1310ZM1717 311 L1708 343 L1661 357 L1657 321 L1659 300 L1696 303ZM2494 1007 L2485 1028 L2471 1019 L2456 1011 L2462 1005 L2473 997 L2494 996ZM2229 1074 L2226 1085 L2211 1077 L2205 1070 L2208 1060 L2226 1061ZM1864 1022 L1832 1042 L1813 1036 L1809 1004 L1844 1009ZM2038 874 L2037 896 L2010 894 L1996 896 L1996 871 L2010 867 L2022 870ZM1563 544 L1556 559 L1542 551 L1523 555 L1530 538 L1545 522 L1569 529ZM1728 575 L1721 584 L1709 584 L1693 571 L1706 567 L1719 566ZM1814 1409 L1778 1431 L1754 1446 L1742 1424 L1728 1411 L1746 1393 L1788 1385ZM2200 1140 L2190 1152 L2151 1173 L2131 1163 L2118 1124 L2147 1115 L2167 1086 L2177 1123ZM2162 1414 L2152 1425 L2134 1438 L2121 1426 L2122 1412 L2118 1401 L2143 1386 L2152 1397ZM2294 1022 L2276 1044 L2246 1041 L2249 1012 L2280 1000ZM2304 1459 L2291 1482 L2265 1469 L2250 1456 L2243 1445 L2255 1424 L2294 1437ZM2414 873 L2403 880 L2394 877 L2392 864 L2402 863ZM1773 385 L1760 400 L1730 403 L1732 378 L1759 353ZM2338 1040 L2338 1074 L2306 1061 L2280 1043 L2288 995 L2330 1004ZM2073 760 L2065 776 L2049 776 L2047 766 L2050 752 L2061 754ZM1893 1167 L1887 1179 L1876 1185 L1871 1175 L1861 1158 L1883 1161 L1899 1154ZM2105 316 L2107 325 L2082 338 L2071 324 L2062 318 L2076 294 L2084 295 L2100 305ZM2038 983 L2029 996 L2014 994 L2012 981 L2019 971 L2042 968ZM1744 794 L1737 813 L1723 816 L1711 809 L1710 802 L1703 782 L1723 784 L1749 785ZM1938 555 L1917 589 L1886 575 L1851 564 L1877 527 L1929 520ZM1616 405 L1616 409 L1604 411 L1598 412 L1595 404 L1596 395 L1608 396 L1616 389ZM2277 1342 L2261 1367 L2247 1368 L2223 1349 L2238 1335 L2243 1317 L2270 1332ZM2041 331 L2019 342 L1988 340 L1969 328 L1959 316 L2000 264 L2009 306ZM2021 1121 L2014 1147 L1981 1146 L1980 1129 L1985 1113 L2006 1106ZM1701 386 L1697 404 L1675 409 L1676 384 L1677 375 L1700 368ZM2388 823 L2377 839 L2359 838 L2359 821 L2374 811ZM1833 540 L1837 566 L1819 580 L1794 572 L1777 549 L1780 511 L1809 519 L1823 527ZM1940 1254 L1939 1277 L1924 1276 L1909 1260 L1897 1244 L1917 1222 L1931 1238ZM2494 862 L2487 880 L2478 877 L2470 873 L2471 864 L2465 856 L2476 848 L2490 858ZM1919 837 L1910 857 L1889 860 L1860 850 L1854 806 L1883 816 L1914 801ZM2173 360 L2167 371 L2159 381 L2141 363 L2148 347 L2159 347 L2166 354ZM2292 501 L2272 527 L2250 518 L2232 514 L2229 486 L2257 463 L2277 444ZM1984 905 L1958 934 L1937 923 L1931 902 L1967 891ZM1851 1426 L1837 1446 L1806 1442 L1789 1427 L1783 1408 L1803 1394 L1823 1389ZM1678 328 L1668 356 L1641 345 L1622 320 L1642 300 L1663 314ZM1538 520 L1528 535 L1508 536 L1510 520 L1523 503ZM2255 312 L2230 344 L2228 371 L2193 329 L2178 316 L2193 284 L2229 287 L2235 299ZM2358 542 L2358 562 L2335 561 L2330 550 L2324 542 L2345 528 L2355 535ZM1550 439 L1554 464 L1510 460 L1505 439 L1518 415 L1556 408ZM1623 554 L1614 563 L1597 555 L1596 541 L1607 534ZM1585 1190 L1571 1209 L1550 1225 L1519 1213 L1520 1181 L1510 1154 L1535 1152 L1568 1170ZM1861 1265 L1853 1278 L1841 1290 L1827 1264 L1837 1251 L1853 1250ZM1752 611 L1724 648 L1679 642 L1679 617 L1687 583 L1725 576ZM1653 843 L1637 882 L1593 872 L1596 845 L1594 797 L1637 812ZM1664 482 L1661 490 L1650 502 L1631 489 L1636 477 L1643 456 L1661 464ZM1956 578 L1942 595 L1904 610 L1896 573 L1903 548 L1946 548ZM2171 1208 L2177 1223 L2160 1227 L2145 1217 L2130 1212 L2136 1190 L2161 1190 L2179 1192ZM2158 597 L2143 617 L2121 623 L2126 591 L2143 589ZM2313 1245 L2306 1261 L2274 1273 L2253 1262 L2244 1242 L2259 1210 L2282 1210 L2300 1227ZM1845 871 L1821 889 L1787 879 L1798 852 L1820 829ZM1763 426 L1758 439 L1739 446 L1729 433 L1743 418 L1752 418ZM2183 445 L2185 452 L2173 460 L2166 451 L2158 447 L2166 436 L2176 437 L2180 441ZM2204 1382 L2198 1401 L2165 1397 L2167 1368 L2187 1364ZM2074 1260 L2074 1281 L2052 1275 L2042 1278 L2043 1259 L2044 1249 L2054 1252 L2073 1250ZM2324 1359 L2300 1377 L2275 1379 L2274 1360 L2283 1330 L2314 1331ZM1780 652 L1766 679 L1745 682 L1737 664 L1736 643 L1755 641 L1767 648ZM2415 1034 L2415 1051 L2383 1049 L2387 1023 L2411 1005ZM2270 408 L2248 429 L2241 443 L2220 431 L2196 416 L2210 396 L2231 384 L2253 394ZM2157 799 L2142 802 L2128 816 L2108 814 L2113 791 L2121 774 L2133 760 L2139 783ZM1946 982 L1923 1014 L1891 1002 L1894 966 L1932 954ZM2243 1441 L2235 1463 L2214 1448 L2213 1429 L2238 1419ZM1997 984 L1984 1003 L1968 1000 L1956 989 L1971 981 L1980 975ZM1619 549 L1611 560 L1590 576 L1566 567 L1570 548 L1560 522 L1601 495 L1628 515ZM1607 683 L1592 692 L1575 681 L1574 670 L1599 664ZM2309 1121 L2305 1151 L2287 1153 L2274 1140 L2268 1127 L2261 1114 L2292 1111 L2308 1113ZM2389 1337 L2378 1338 L2371 1341 L2361 1343 L2356 1335 L2362 1326 L2368 1323 L2381 1320ZM1622 841 L1615 852 L1599 850 L1573 839 L1603 822 L1618 824ZM1804 1436 L1796 1443 L1793 1444 L1781 1444 L1784 1433 L1792 1419 L1799 1431ZM2182 1031 L2184 1044 L2166 1048 L2156 1036 L2159 1022 L2167 1021 L2178 1025ZM2112 321 L2122 339 L2091 350 L2078 326 L2072 315 L2086 305 L2089 296 L2113 293ZM1549 1366 L1539 1397 L1501 1400 L1492 1394 L1496 1369 L1502 1341 L1531 1343ZM1702 1265 L1707 1278 L1665 1298 L1625 1289 L1632 1252 L1641 1242 L1666 1223 L1680 1250ZM1701 682 L1686 696 L1664 690 L1674 668 L1693 666ZM1553 427 L1540 439 L1516 438 L1521 421 L1534 420ZM1815 781 L1804 794 L1784 794 L1777 775 L1789 769 L1799 757ZM1910 1372 L1900 1381 L1892 1389 L1879 1375 L1892 1359 L1907 1354ZM2470 794 L2447 821 L2415 817 L2403 784 L2411 771 L2457 767ZM2491 973 L2481 986 L2464 989 L2450 979 L2449 956 L2459 955 L2482 955ZM2449 690 L2429 698 L2405 718 L2388 677 L2406 652 L2437 656ZM1877 1394 L1865 1432 L1829 1419 L1809 1397 L1832 1374 L1867 1358ZM2062 450 L2030 455 L2005 467 L1981 463 L1966 421 L1997 407 L2035 414ZM1830 1274 L1817 1305 L1776 1287 L1785 1270 L1805 1264ZM2055 1260 L2034 1273 L2004 1285 L2012 1246 L2030 1244ZM1906 1190 L1897 1203 L1881 1194 L1883 1179 L1901 1182ZM2245 561 L2235 573 L2216 582 L2204 583 L2194 564 L2210 550 L2220 550 L2228 556ZM1757 462 L1750 470 L1732 477 L1724 463 L1735 440 L1754 450ZM2520 920 L2514 948 L2485 937 L2481 929 L2483 905 L2504 905ZM2444 1231 L2443 1260 L2398 1278 L2377 1229 L2405 1220 L2434 1216ZM2180 1113 L2181 1128 L2159 1123 L2153 1124 L2149 1115 L2152 1103 L2162 1097 L2175 1101ZM1539 1280 L1522 1310 L1499 1300 L1461 1290 L1460 1244 L1485 1243 L1523 1254ZM2043 1102 L2031 1140 L2004 1133 L1974 1118 L1962 1109 L1966 1080 L2001 1079 L2025 1071ZM1995 1119 L1994 1129 L1985 1131 L1973 1134 L1968 1126 L1977 1116 L1980 1114 L1991 1118ZM1822 1417 L1816 1423 L1807 1428 L1794 1423 L1793 1417 L1802 1410 L1810 1397 L1818 1411ZM1661 341 L1650 376 L1610 378 L1612 347 L1619 321 L1654 313ZM1576 972 L1553 975 L1538 982 L1524 990 L1521 967 L1511 949 L1546 923 L1554 945ZM2042 789 L2026 806 L2011 818 L2001 810 L1994 796 L1999 785 L2009 769 L2030 778ZM1947 732 L1937 751 L1912 753 L1890 737 L1906 711 L1927 711ZM2075 443 L2063 463 L2039 483 L2013 449 L2012 423 L2041 402 L2080 414ZM2037 846 L2035 860 L2007 852 L1975 835 L2001 822 L2027 808ZM1631 1151 L1627 1165 L1609 1177 L1600 1152 L1591 1143 L1600 1122 L1620 1135ZM2350 979 L2351 998 L2325 988 L2323 969 L2343 970ZM2513 873 L2502 896 L2484 883 L2471 854 L2500 854ZM2412 991 L2406 1001 L2392 997 L2381 991 L2391 978 L2401 980ZM1873 975 L1869 1007 L1839 992 L1823 975 L1848 945 L1877 946ZM2167 711 L2154 741 L2129 753 L2126 734 L2112 712 L2116 686 L2130 689 L2159 690ZM1603 527 L1581 574 L1538 559 L1523 540 L1556 499 L1576 509ZM2425 630 L2400 654 L2376 643 L2373 624 L2409 611ZM1862 1174 L1845 1195 L1824 1215 L1800 1206 L1802 1179 L1805 1154 L1830 1158 L1843 1145ZM1880 729 L1863 744 L1841 744 L1829 723 L1845 708 L1861 716ZM2186 1199 L2163 1214 L2148 1221 L2132 1199 L2149 1172 L2167 1184ZM1957 1302 L1947 1309 L1943 1324 L1928 1303 L1921 1292 L1939 1283 L1949 1284ZM1886 683 L1864 701 L1846 704 L1836 690 L1826 676 L1851 664 L1874 668ZM2428 716 L2403 735 L2381 748 L2366 750 L2350 731 L2353 696 L2397 694 L2410 691ZM1556 893 L1541 899 L1529 914 L1529 903 L1517 890 L1520 873 L1529 865 L1547 887ZM2217 327 L2206 342 L2194 341 L2191 319 L2212 317ZM2059 757 L2049 760 L2036 770 L2024 761 L2024 755 L2032 741 L2042 737 L2052 741ZM2171 848 L2167 866 L2149 876 L2135 869 L2127 855 L2138 834 L2149 836 L2164 830ZM2049 920 L2055 957 L1999 949 L1981 921 L2003 888 L2041 884ZM1822 1078 L1816 1092 L1801 1091 L1788 1078 L1786 1068 L1794 1059 L1812 1056ZM1857 590 L1847 624 L1782 611 L1805 577 L1841 563ZM1781 594 L1768 616 L1746 608 L1720 588 L1744 557 L1774 560ZM2367 787 L2346 818 L2331 798 L2319 769 L2344 774ZM2329 429 L2325 438 L2313 439 L2304 423 L2312 420 L2324 413ZM1780 672 L1774 682 L1752 689 L1752 678 L1745 665 L1758 654 L1773 650ZM1580 679 L1569 684 L1555 708 L1528 691 L1530 677 L1533 662 L1553 655 L1573 658ZM1742 1140 L1732 1167 L1712 1154 L1679 1146 L1704 1110 L1735 1127ZM1988 1187 L1973 1203 L1927 1211 L1916 1186 L1909 1169 L1936 1164 L1964 1163ZM1866 1065 L1858 1083 L1834 1080 L1842 1062 L1855 1042ZM1736 1377 L1727 1380 L1718 1380 L1712 1368 L1726 1364ZM2069 1212 L2076 1236 L2049 1236 L2033 1232 L2036 1221 L2040 1201 L2047 1200 L2070 1197ZM1754 964 L1751 969 L1739 977 L1732 975 L1734 957 L1739 954 L1749 959ZM2046 649 L2024 687 L1998 656 L1993 636 L2022 625ZM2276 995 L2272 1000 L2258 1001 L2252 998 L2240 982 L2261 976 L2278 976ZM2157 544 L2152 558 L2127 565 L2101 552 L2108 518 L2133 511 L2165 520ZM2509 909 L2472 961 L2432 947 L2425 886 L2467 884ZM2142 1200 L2138 1215 L2123 1218 L2119 1207 L2109 1197 L2115 1191 L2126 1174 L2137 1191ZM2236 814 L2210 837 L2184 834 L2172 811 L2187 791 L2224 791ZM2351 501 L2341 528 L2302 517 L2313 482 L2343 482ZM2036 690 L2028 706 L2007 707 L2003 694 L1998 683 L2013 666 L2023 685ZM1682 1397 L1641 1432 L1606 1428 L1613 1403 L1622 1383 L1655 1371ZM1884 1353 L1877 1361 L1865 1367 L1852 1357 L1832 1351 L1846 1337 L1857 1333 L1868 1336ZM1905 1423 L1893 1431 L1881 1432 L1862 1416 L1873 1405 L1896 1395ZM1634 827 L1624 833 L1614 839 L1611 830 L1605 820 L1617 816 L1630 821ZM1907 1239 L1908 1257 L1884 1263 L1880 1240 L1880 1225 L1908 1216ZM2379 464 L2364 485 L2348 473 L2337 462 L2343 449 L2361 454ZM1636 1085 L1595 1111 L1569 1100 L1557 1075 L1603 1065ZM1636 576 L1630 594 L1594 598 L1591 583 L1584 560 L1602 556 L1631 541ZM2179 1328 L2178 1330 L2166 1339 L2159 1328 L2159 1321 L2167 1313 L2175 1314ZM1806 962 L1783 978 L1764 976 L1732 964 L1744 947 L1766 937 L1777 928ZM2319 837 L2310 842 L2293 849 L2298 826 L2310 822ZM2463 537 L2450 545 L2446 555 L2430 558 L2419 538 L2424 513 L2439 515 L2461 523ZM1728 720 L1716 756 L1673 731 L1686 704 L1713 678ZM1759 1059 L1765 1083 L1734 1075 L1720 1073 L1715 1055 L1724 1048 L1736 1009 L1754 1047ZM2093 784 L2086 797 L2077 795 L2071 802 L2072 785 L2069 776 L2080 773 L2083 780ZM1804 763 L1794 775 L1786 775 L1779 765 L1781 757 L1795 763ZM1811 1188 L1816 1198 L1798 1200 L1786 1195 L1786 1175 L1801 1174 L1816 1175ZM2407 514 L2394 536 L2387 550 L2353 542 L2337 513 L2368 500 L2378 485 L2400 505ZM1754 702 L1743 716 L1731 712 L1724 704 L1728 690 L1744 700ZM1794 1352 L1794 1361 L1782 1360 L1773 1359 L1776 1345 L1785 1342 L1789 1347ZM1594 1148 L1587 1185 L1553 1167 L1555 1142 L1586 1126ZM1618 1376 L1600 1408 L1588 1391 L1578 1379 L1582 1366 L1597 1367ZM1904 1056 L1892 1092 L1872 1076 L1859 1058 L1868 1024 L1893 1025ZM1555 1063 L1544 1066 L1530 1083 L1503 1076 L1492 1056 L1493 1018 L1526 1038 L1548 1034ZM1864 382 L1854 399 L1831 398 L1820 400 L1818 384 L1816 363 L1837 361 L1855 367ZM2508 867 L2492 878 L2471 875 L2475 860 L2495 856ZM2388 1057 L2380 1092 L2334 1087 L2339 1067 L2345 1053 L2370 1051ZM2379 1166 L2383 1194 L2342 1197 L2330 1166 L2337 1150 L2368 1151ZM1777 830 L1766 846 L1756 866 L1746 848 L1731 832 L1741 804 L1763 809 L1768 819ZM1616 334 L1616 341 L1595 353 L1585 341 L1587 323 L1598 314 L1611 315ZM2475 1052 L2473 1070 L2455 1062 L2435 1060 L2430 1042 L2452 1027 L2470 1029ZM2435 577 L2416 616 L2404 615 L2371 591 L2379 568 L2392 548 L2431 554ZM2299 768 L2294 778 L2279 774 L2268 769 L2271 757 L2276 751 L2288 759ZM1686 1108 L1676 1115 L1669 1118 L1662 1113 L1666 1099 L1678 1106ZM1605 379 L1575 401 L1548 388 L1527 368 L1531 332 L1572 341ZM2251 1238 L2220 1255 L2195 1272 L2177 1230 L2197 1221 L2218 1209ZM2234 831 L2227 841 L2207 850 L2200 829 L2208 822 L2226 827ZM2042 485 L2033 514 L1991 518 L1991 491 L1999 459 L2025 458ZM2239 1200 L2237 1206 L2211 1213 L2195 1204 L2201 1195 L2201 1179 L2215 1180 L2235 1185ZM2445 1078 L2421 1098 L2386 1093 L2397 1063 L2416 1041ZM2237 757 L2230 771 L2214 773 L2207 754 L2212 740 L2229 738ZM1684 1168 L1682 1182 L1666 1176 L1656 1163 L1663 1144 L1682 1154ZM2479 331 L2453 343 L2434 350 L2421 327 L2433 304 L2461 313ZM2324 1306 L2279 1330 L2234 1320 L2256 1286 L2303 1266ZM1893 1014 L1874 1047 L1842 1034 L1850 999 L1883 1001ZM2104 1263 L2104 1275 L2081 1295 L2068 1280 L2073 1263 L2080 1250 L2089 1241 L2111 1252ZM1903 1390 L1883 1411 L1852 1412 L1830 1394 L1855 1351 L1881 1373ZM2074 1178 L2071 1227 L2043 1208 L2031 1197 L2032 1177 L2048 1153 L2071 1159ZM2304 1237 L2289 1257 L2257 1253 L2233 1227 L2265 1203 L2292 1214ZM1955 408 L1948 422 L1944 419 L1933 420 L1933 413 L1934 405 L1940 400 L1954 404ZM1993 539 L1982 550 L1957 559 L1942 533 L1963 520 L1989 519ZM2256 1082 L2250 1115 L2203 1119 L2188 1103 L2176 1081 L2205 1062 L2248 1065ZM1967 625 L1947 648 L1920 647 L1921 618 L1949 595ZM1804 699 L1801 717 L1764 716 L1729 706 L1758 677 L1805 671ZM2368 356 L2355 366 L2345 370 L2322 375 L2323 358 L2315 340 L2333 331 L2356 341ZM1547 1081 L1530 1106 L1508 1102 L1484 1079 L1510 1052 L1543 1035ZM2429 957 L2428 974 L2405 968 L2407 955 L2413 945 L2430 942ZM2445 540 L2408 568 L2379 556 L2349 541 L2367 501 L2431 505ZM2285 973 L2291 990 L2261 1009 L2244 983 L2241 972 L2245 958 L2268 944 L2290 942ZM2220 1054 L2212 1066 L2191 1069 L2174 1062 L2180 1048 L2194 1044 L2204 1030ZM1553 849 L1540 862 L1520 858 L1517 835 L1540 822ZM2458 578 L2444 600 L2417 619 L2375 578 L2374 544 L2417 539 L2438 546ZM1652 852 L1643 869 L1635 869 L1611 855 L1610 845 L1634 832 L1654 840ZM2313 1398 L2299 1415 L2279 1419 L2256 1414 L2250 1396 L2266 1372 L2284 1349 L2311 1372ZM1523 367 L1519 391 L1493 379 L1475 382 L1485 355 L1495 346 L1514 353ZM2347 1439 L2340 1442 L2331 1451 L2322 1443 L2324 1430 L2329 1431 L2341 1433ZM2083 423 L2083 437 L2073 448 L2056 441 L2038 425 L2048 400 L2068 389 L2077 412ZM1850 417 L1855 432 L1833 444 L1803 441 L1790 414 L1809 382 L1829 401 L1856 395ZM1916 576 L1915 581 L1904 587 L1890 577 L1893 569 L1902 562 L1911 556ZM2440 424 L2440 440 L2422 452 L2411 448 L2405 433 L2405 400 L2416 402 L2443 403ZM1690 1261 L1687 1278 L1667 1295 L1656 1274 L1652 1262 L1669 1252 L1688 1242ZM2078 1383 L2074 1400 L2041 1403 L2046 1388 L2053 1374 L2067 1362ZM1900 860 L1896 869 L1871 900 L1851 872 L1840 862 L1861 832 L1871 840 L1894 842ZM1965 1015 L1973 1040 L1931 1036 L1900 1032 L1901 984 L1929 976 L1950 991ZM2444 1294 L2432 1304 L2412 1303 L2409 1290 L2415 1280 L2436 1272ZM2199 1030 L2191 1047 L2170 1041 L2174 1021 L2188 1014ZM1974 587 L1977 598 L1961 601 L1942 599 L1938 587 L1950 574 L1960 565 L1977 567ZM1706 1421 L1682 1437 L1651 1429 L1633 1442 L1624 1413 L1624 1394 L1653 1378 L1690 1373ZM2088 634 L2073 646 L2060 643 L2036 630 L2042 611 L2052 607 L2077 607ZM2342 381 L2328 389 L2310 399 L2304 384 L2297 374 L2315 365 L2328 369ZM2214 942 L2205 964 L2170 952 L2162 934 L2166 911 L2191 914ZM2424 1402 L2416 1413 L2402 1407 L2401 1403 L2406 1396 L2413 1392ZM2462 1314 L2431 1321 L2415 1365 L2380 1345 L2369 1313 L2381 1264 L2403 1274 L2428 1295ZM1563 421 L1559 447 L1536 437 L1515 437 L1515 415 L1530 397 L1564 408ZM2090 1347 L2080 1357 L2074 1365 L2053 1351 L2061 1339 L2064 1322 L2088 1331ZM2187 1403 L2183 1421 L2167 1414 L2167 1397 L2177 1389ZM1638 1426 L1616 1459 L1602 1471 L1568 1461 L1574 1438 L1581 1418 L1600 1411 L1616 1428ZM1590 600 L1590 609 L1582 620 L1573 615 L1573 602 L1573 596 L1583 591 L1592 590ZM2285 1084 L2262 1102 L2257 1131 L2226 1099 L2214 1085 L2231 1079 L2246 1067 L2272 1075ZM2450 477 L2447 495 L2420 492 L2424 463 L2444 462ZM1578 1388 L1573 1397 L1563 1397 L1553 1396 L1554 1384 L1562 1376 L1575 1379ZM1774 1375 L1771 1385 L1759 1385 L1755 1380 L1749 1370 L1755 1364 L1758 1360 L1768 1364ZM1993 332 L1978 338 L1963 340 L1953 332 L1970 314 L1978 323ZM1942 970 L1941 977 L1923 986 L1915 978 L1914 963 L1923 958 L1942 958ZM2128 584 L2126 608 L2095 606 L2085 596 L2082 588 L2090 576 L2094 566 L2111 581ZM2488 764 L2482 777 L2461 777 L2446 769 L2449 758 L2453 744 L2479 734ZM1990 699 L1979 711 L1952 707 L1938 690 L1939 669 L1969 677ZM1943 750 L1942 754 L1936 759 L1930 756 L1924 750 L1928 737 L1937 734 L1941 743ZM2422 839 L2406 865 L2380 862 L2371 846 L2386 830 L2415 826ZM2466 1204 L2452 1215 L2437 1233 L2431 1220 L2421 1209 L2430 1193 L2444 1191 L2448 1191ZM2262 894 L2253 899 L2239 904 L2231 893 L2238 885 L2248 883ZM2380 1114 L2351 1142 L2315 1140 L2311 1098 L2360 1071ZM1658 987 L1648 1036 L1601 1025 L1588 1016 L1587 985 L1615 957 L1646 973ZM1991 948 L1978 983 L1954 976 L1923 953 L1944 917 L1971 923ZM2053 1015 L2042 1021 L2019 1025 L2005 1006 L2018 997 L2040 996ZM1921 939 L1899 968 L1853 958 L1871 912 L1901 903ZM1821 1344 L1815 1364 L1804 1366 L1794 1356 L1796 1341 L1802 1339 L1819 1339ZM2211 1086 L2212 1096 L2195 1092 L2183 1092 L2182 1082 L2198 1077 L2212 1073ZM1969 349 L1959 365 L1941 357 L1936 349 L1942 333 L1961 334ZM1597 450 L1598 456 L1590 462 L1579 458 L1576 446 L1577 435 L1588 438 L1595 439ZM2456 1354 L2445 1368 L2410 1390 L2389 1381 L2382 1347 L2395 1312 L2418 1327 L2443 1340ZM1898 1074 L1898 1087 L1873 1110 L1853 1089 L1840 1064 L1853 1058 L1871 1038 L1888 1061ZM1697 703 L1673 730 L1648 747 L1613 712 L1645 692 L1672 694ZM2031 348 L2002 370 L1968 391 L1958 377 L1971 341 L1980 331 L2012 332ZM2134 680 L2132 685 L2119 689 L2110 690 L2105 679 L2117 672 L2120 666 L2129 667ZM2273 872 L2266 882 L2248 886 L2248 872 L2247 859 L2261 868ZM2429 535 L2427 538 L2419 548 L2408 540 L2403 532 L2409 521 L2418 523 L2432 523ZM2349 664 L2347 674 L2339 681 L2329 673 L2328 665 L2336 659 L2346 662ZM2212 578 L2203 600 L2181 596 L2175 581 L2178 571 L2196 573ZM2053 512 L2044 540 L2008 540 L1993 500 L2039 487ZM2039 1433 L2039 1443 L1997 1457 L1981 1446 L1964 1437 L1986 1400 L1999 1405 L2017 1411ZM2203 807 L2186 829 L2145 813 L2158 784 L2196 781ZM1654 1451 L1645 1476 L1617 1489 L1603 1450 L1618 1421 L1654 1438ZM2296 518 L2293 527 L2274 549 L2245 529 L2249 508 L2252 500 L2273 489 L2303 481ZM2254 1178 L2238 1193 L2226 1201 L2214 1181 L2226 1168 L2247 1172ZM2208 367 L2195 380 L2171 377 L2171 358 L2193 359ZM2242 765 L2226 793 L2207 775 L2204 747 L2228 736ZM1988 752 L1979 768 L1971 772 L1951 762 L1952 742 L1962 741 L1982 735ZM1641 569 L1630 596 L1615 589 L1607 588 L1600 569 L1615 561 L1636 564ZM2527 618 L2499 643 L2475 657 L2459 628 L2440 601 L2471 598 L2515 598ZM2431 698 L2428 714 L2416 707 L2399 698 L2403 686 L2420 686 L2429 681ZM2533 1264 L2500 1273 L2466 1285 L2465 1243 L2512 1230ZM1566 1438 L1549 1461 L1521 1447 L1532 1430 L1549 1425ZM1604 748 L1602 780 L1586 783 L1570 761 L1563 750 L1561 735 L1581 732 L1596 744ZM1706 662 L1690 690 L1660 683 L1656 652 L1687 638ZM2328 928 L2315 944 L2296 936 L2271 931 L2272 919 L2271 887 L2289 898 L2311 906ZM1672 1265 L1657 1294 L1633 1279 L1634 1251 L1657 1233ZM1824 404 L1816 420 L1804 422 L1798 420 L1784 407 L1799 403 L1801 394 L1819 398ZM2066 1354 L2042 1364 L2027 1392 L2014 1366 L2006 1344 L2011 1324 L2034 1300 L2052 1330ZM1992 1264 L1991 1280 L1963 1274 L1960 1242 L1984 1245ZM1870 1436 L1861 1451 L1811 1471 L1817 1435 L1831 1413 L1863 1393ZM2129 656 L2120 678 L2085 700 L2060 648 L2082 636 L2114 646ZM1888 721 L1859 739 L1838 721 L1835 689 L1857 693ZM1516 563 L1506 576 L1496 587 L1470 564 L1488 552 L1500 544 L1511 546ZM2183 422 L2156 469 L2122 433 L2115 401 L2171 391ZM1999 1202 L1978 1220 L1964 1218 L1960 1205 L1965 1187 L1980 1191ZM2209 1135 L2190 1157 L2159 1140 L2166 1122 L2193 1098ZM1826 857 L1827 869 L1819 873 L1809 869 L1805 855 L1799 845 L1811 839 L1826 853ZM2118 1339 L2114 1357 L2098 1361 L2082 1348 L2081 1337 L2096 1327 L2115 1326ZM1515 390 L1511 401 L1499 403 L1489 405 L1483 389 L1489 385 L1499 386 L1505 390ZM2519 1286 L2497 1296 L2480 1313 L2453 1279 L2453 1256 L2469 1252 L2512 1245ZM1518 795 L1509 795 L1498 808 L1491 803 L1493 792 L1488 779 L1502 770 L1518 784ZM2279 570 L2264 591 L2252 584 L2230 585 L2228 563 L2244 558 L2266 551ZM1619 425 L1602 449 L1583 456 L1571 447 L1556 441 L1579 420 L1589 419 L1608 413ZM2111 1047 L2088 1062 L2068 1076 L2063 1056 L2046 1032 L2077 1008 L2088 1027ZM1667 894 L1661 909 L1645 908 L1626 906 L1625 895 L1629 874 L1646 877 L1659 882ZM1624 821 L1625 828 L1614 835 L1603 834 L1603 821 L1601 807 L1616 814 L1623 811ZM1858 1073 L1840 1106 L1789 1101 L1788 1050 L1838 1045ZM2086 1286 L2051 1305 L2014 1290 L2012 1254 L2064 1218ZM2321 617 L2326 633 L2298 638 L2283 646 L2275 608 L2277 596 L2304 598 L2322 589ZM1937 1001 L1929 1037 L1895 1044 L1876 1003 L1900 986 L1931 984ZM2276 739 L2261 758 L2246 775 L2219 747 L2226 721 L2240 722 L2259 720ZM1590 1323 L1582 1333 L1567 1330 L1557 1325 L1570 1301 L1582 1307ZM2387 602 L2361 613 L2344 628 L2317 603 L2339 581 L2363 578ZM2393 445 L2386 459 L2372 459 L2358 446 L2370 424 L2385 424ZM1558 414 L1555 421 L1545 425 L1538 415 L1533 414 L1533 403 L1542 401 L1557 399ZM2477 588 L2474 612 L2452 619 L2428 595 L2449 561 L2468 579ZM2133 1194 L2119 1219 L2097 1211 L2083 1189 L2120 1181ZM1993 744 L1987 765 L1964 773 L1941 765 L1942 752 L1949 732 L1964 729 L1995 726ZM1783 385 L1752 413 L1730 404 L1718 379 L1758 364ZM2173 873 L2172 895 L2154 890 L2129 888 L2119 868 L2123 860 L2150 856 L2169 851ZM1587 445 L1555 512 L1523 497 L1515 452 L1527 431 L1571 425ZM2470 1017 L2455 1029 L2444 1025 L2427 1017 L2431 997 L2443 983 L2453 995ZM1826 564 L1817 580 L1794 586 L1773 579 L1780 572 L1769 539 L1797 540 L1811 556ZM2178 648 L2176 652 L2159 667 L2155 661 L2149 645 L2158 638 L2165 629 L2173 639ZM1605 1316 L1592 1325 L1583 1354 L1559 1325 L1540 1315 L1559 1304 L1571 1294 L1591 1297ZM2399 1295 L2374 1330 L2337 1346 L2339 1308 L2343 1283 L2369 1271ZM1990 1425 L1986 1447 L1960 1447 L1956 1427 L1967 1412 L1978 1418ZM2380 1204 L2366 1225 L2352 1216 L2349 1192 L2369 1188ZM2528 551 L2505 569 L2486 566 L2482 536 L2510 527ZM2067 641 L2043 656 L2003 659 L1993 627 L1988 600 L2040 613ZM2108 717 L2109 741 L2082 743 L2055 737 L2051 714 L2069 710 L2092 686 L2114 698ZM2453 449 L2447 453 L2438 456 L2424 461 L2419 442 L2429 441 L2440 432 L2445 439ZM2068 628 L2057 637 L2052 643 L2043 634 L2031 627 L2039 620 L2046 616 L2058 614ZM1634 858 L1634 881 L1605 882 L1576 881 L1588 849 L1592 834 L1621 823 L1635 836ZM1641 947 L1615 971 L1602 970 L1586 961 L1604 939 L1626 929ZM1824 1091 L1799 1117 L1778 1121 L1774 1097 L1785 1072 L1798 1084ZM1607 1276 L1599 1290 L1588 1290 L1585 1279 L1589 1265 L1600 1272Z" fill="#e8f2dc"/>
<polygon points="2020.0,600.0 2080.0,520.0 2200.0,515.0 2300.0,580.0 2320.0,700.0 2300.0,830.0 2230.0,900.0 2120.0,910.0 2030.0,860.0 1990.0,760.0" fill="#f7f5ef"/>
<polygon points="1880.0,380.0 1960.0,372.0 1990.0,420.0 1960.0,450.0 1890.0,440.0" fill="#f7f5ef"/>
<polygon points="2300.0,640.0 2420.0,630.0 2440.0,690.0 2320.0,700.0" fill="#f7f5ef"/>
<polygon points="2290.0,740.0 2400.0,730.0 2410.0,800.0 2300.0,800.0" fill="#f7f5ef"/>
<polygon points="2040.0,1040.0 2120.0,1030.0 2140.0,1090.0 2060.0,1100.0" fill="#f7f5ef"/>
<polygon points="2190.0,1040.0 2280.0,1030.0 2300.0,1090.0 2210.0,1100.0" fill="#f7f5ef"/>
<polygon points="1517.0,1090.0 1580.0,1080.0 1600.0,1140.0 1517.0,1150.0" fill="#f7f5ef"/>
<polygon points="1860.0,760.0 1960.0,760.0 1970.0,800.0 1870.0,800.0" fill="#f7f5ef"/>
<polygon points="2160.0,890.0 2250.0,880.0 2260.0,930.0 2170.0,940.0" fill="#f7f5ef"/>
<path d="M1617 332 L1640 332 L1642 350 L1652 362 L1648 380 L1655 392 L1645 402 L1637 416 L1630 412 L1633 395 L1625 380 L1628 362 L1618 350Z" fill="#a8daf3"/>
<path d="M2187 332 L2252 332 L2248 350 L2262 368 L2255 380 L2200 380 L2196 362 L2185 346Z M2100 415 L2125 410 L2141 403 L2142 421 L2120 428 L2100 434Z M2120 332 L2135 332 L2138 345 L2160 360 L2175 355 L2178 368 L2158 372 L2130 350Z" fill="#a8daf3"/>
<path d="M1965 395 L1975 388 L1985 398 L1978 405Z" fill="#a8daf3"/>
<polyline points="1517.0,755.0 1545.0,747.0 1580.0,735.0 1614.0,717.0 1640.0,730.0 1670.0,739.0 1700.0,728.0 1739.0,719.0 1795.0,728.0 1850.0,717.0 1900.0,712.0 1961.0,706.0 2000.0,700.0" fill="none" stroke="#92d0f0" stroke-width="2.2" stroke-linejoin="round"/>
<polyline points="1645.0,433.0 1660.0,470.0 1645.0,520.0 1665.0,560.0 1690.0,565.0 1725.0,582.0 1750.0,585.0 1770.0,600.0 1790.0,598.0 1800.0,620.0 1820.0,640.0" fill="none" stroke="#92d0f0" stroke-width="2.2" stroke-linejoin="round"/>
<polyline points="1710.0,930.0 1740.0,950.0 1790.0,955.0 1823.0,956.0 1878.0,950.0" fill="none" stroke="#92d0f0" stroke-width="2.2" stroke-linejoin="round"/>
<polyline points="1571.0,1119.0 1585.0,1170.0 1593.0,1209.0 1616.0,1260.0 1659.0,1284.0 1696.0,1312.0 1720.0,1372.0 1700.0,1440.0" fill="none" stroke="#92d0f0" stroke-width="2.2" stroke-linejoin="round"/>
<polyline points="1866.0,1279.0 1890.0,1310.0 1906.0,1336.0 1918.0,1360.0 1965.0,1374.0 2000.0,1407.0 2040.0,1420.0" fill="none" stroke="#92d0f0" stroke-width="2.2" stroke-linejoin="round"/>
<polyline points="2140.0,1060.0 2180.0,1050.0 2230.0,1000.0 2300.0,980.0 2330.0,985.0 2380.0,1000.0 2420.0,950.0 2484.0,930.0" fill="none" stroke="#92d0f0" stroke-width="2.2" stroke-linejoin="round"/>
<polyline points="2190.0,1230.0 2230.0,1200.0 2260.0,1140.0 2300.0,1120.0" fill="none" stroke="#92d0f0" stroke-width="2.2" stroke-linejoin="round"/>
<polyline points="2320.0,1310.0 2380.0,1320.0 2420.0,1300.0 2484.0,1290.0" fill="none" stroke="#92d0f0" stroke-width="2.2" stroke-linejoin="round"/>
<polyline points="1950.0,400.0 2000.0,380.0 2050.0,395.0 2100.0,385.0 2150.0,390.0 2200.0,375.0" fill="none" stroke="#92d0f0" stroke-width="2.2" stroke-linejoin="round"/>
<polyline points="2440.0,380.0 2470.0,400.0 2484.0,420.0" fill="none" stroke="#92d0f0" stroke-width="2.2" stroke-linejoin="round"/>
<polyline points="1517.0,1010.0 1560.0,1015.0 1600.0,1010.0" fill="none" stroke="#92d0f0" stroke-width="2.2" stroke-linejoin="round"/>
<polyline points="1517.0,510.0 1560.0,515.0 1620.0,508.0 1670.0,520.0 1730.0,525.0 1800.0,540.0 1860.0,555.0 1930.0,575.0 1990.0,590.0" fill="none" stroke="#f9c88f" stroke-width="2" stroke-linejoin="round"/>
<polyline points="1680.0,355.0 1700.0,380.0 1760.0,395.0 1780.0,420.0 1790.0,450.0 1800.0,470.0 1850.0,480.0 1880.0,490.0 1920.0,510.0 1950.0,540.0 1980.0,560.0" fill="none" stroke="#f9c88f" stroke-width="2" stroke-linejoin="round"/>
<polyline points="1790.0,420.0 1850.0,440.0 1870.0,450.0 1860.0,480.0 1870.0,510.0 1900.0,540.0 1940.0,580.0 1990.0,600.0" fill="none" stroke="#f9c88f" stroke-width="2" stroke-linejoin="round"/>
<polyline points="1660.0,716.0 1700.0,720.0 1750.0,716.0 1790.0,725.0 1850.0,712.0 1990.0,700.0" fill="none" stroke="#f9c88f" stroke-width="2" stroke-linejoin="round"/>
<polyline points="1560.0,850.0 1640.0,850.0 1700.0,845.0 1760.0,840.0 1840.0,838.0" fill="none" stroke="#f9c88f" stroke-width="2" stroke-linejoin="round"/>
<polyline points="1545.0,900.0 1543.0,1000.0 1540.0,1100.0" fill="none" stroke="#f9c88f" stroke-width="2" stroke-linejoin="round"/>
<polyline points="1529.0,1367.0 1597.0,1407.0 1659.0,1440.0" fill="none" stroke="#f9c88f" stroke-width="2" stroke-linejoin="round"/>
<polyline points="1602.0,1407.0 1682.0,1355.0 1725.0,1324.0 1753.0,1312.0 1800.0,1290.0" fill="none" stroke="#f9c88f" stroke-width="2" stroke-linejoin="round"/>
<polyline points="2200.0,920.0 2240.0,960.0 2260.0,1040.0 2240.0,1100.0" fill="none" stroke="#f9c88f" stroke-width="2" stroke-linejoin="round"/>
<polyline points="2320.0,940.0 2350.0,1000.0 2360.0,1060.0 2380.0,1130.0" fill="none" stroke="#f9c88f" stroke-width="2" stroke-linejoin="round"/>
<polyline points="2000.0,1100.0 2020.0,1140.0 2030.0,1200.0 2030.0,1280.0 2050.0,1340.0 2100.0,1380.0" fill="none" stroke="#f9c88f" stroke-width="2" stroke-linejoin="round"/>
<polyline points="2390.0,1160.0 2430.0,1150.0 2484.0,1145.0" fill="none" stroke="#f9c88f" stroke-width="2" stroke-linejoin="round"/>
<polyline points="2330.0,650.0 2370.0,600.0 2400.0,560.0 2430.0,540.0 2484.0,530.0" fill="none" stroke="#f9c88f" stroke-width="2" stroke-linejoin="round"/>
<polyline points="2300.0,430.0 2350.0,420.0 2400.0,400.0 2440.0,360.0 2460.0,332.0" fill="none" stroke="#f9c88f" stroke-width="2" stroke-linejoin="round"/>
<polyline points="1920.0,332.0 1900.0,360.0 1880.0,380.0" fill="none" stroke="#f9c88f" stroke-width="2" stroke-linejoin="round"/>
<polyline points="2040.0,332.0 2060.0,370.0 2065.0,410.0 2090.0,440.0" fill="none" stroke="#f9c88f" stroke-width="2" stroke-linejoin="round"/>
<polyline points="2410.0,1000.0 2430.0,1100.0 2450.0,1200.0 2484.0,1260.0" fill="none" stroke="#f9c88f" stroke-width="2" stroke-linejoin="round"/>
<polyline points="2180.0,1300.0 2250.0,1320.0 2300.0,1360.0 2340.0,1420.0" fill="none" stroke="#f9c88f" stroke-width="2" stroke-linejoin="round"/>
<polyline points="1857.0,332.0 1839.0,340.0 1773.0,383.0 1762.0,393.0 1757.0,419.0 1737.0,450.0 1711.0,498.0 1706.0,526.0 1705.0,567.0 1693.0,598.0 1690.0,626.0 1692.0,659.0 1673.0,700.0 1661.0,717.0 1659.0,742.0 1673.0,778.0 1711.0,803.0 1734.0,811.0 1745.0,833.0 1756.0,844.0 1748.0,867.0 1742.0,903.0 1736.0,939.0 1731.0,961.0 1739.0,975.0 1773.0,1014.0 1795.0,1031.0 1814.0,1044.0 1842.0,1067.0 1880.0,1090.0" fill="none" stroke="#f8a93a" stroke-width="3.6" stroke-linejoin="round" stroke-linecap="round"/>
<polyline points="1517.0,576.0 1583.0,577.0 1619.0,590.0 1652.0,608.0 1665.0,612.0 1752.0,622.0 1788.0,660.0 1824.0,659.0 1885.0,673.0 1926.0,646.0 1990.0,640.0 2010.0,630.0" fill="none" stroke="#f8a93a" stroke-width="3.6" stroke-linejoin="round" stroke-linecap="round"/>
<polyline points="1831.0,332.0 1852.0,375.0 1900.0,409.0 1962.0,452.0 2000.0,480.0 2040.0,510.0" fill="none" stroke="#f8a93a" stroke-width="3.6" stroke-linejoin="round" stroke-linecap="round"/>
<polyline points="1893.0,332.0 1916.0,355.0 1923.0,378.0 1949.0,432.0 1960.0,452.0" fill="none" stroke="#f8a93a" stroke-width="3.6" stroke-linejoin="round" stroke-linecap="round"/>
<polyline points="1517.0,914.0 1642.0,889.0 1767.0,867.0 1836.0,850.0 1878.0,839.0 1911.0,817.0 1950.0,792.0 1989.0,731.0 2000.0,700.0" fill="none" stroke="#f8a93a" stroke-width="3.6" stroke-linejoin="round" stroke-linecap="round"/>
<polyline points="1731.0,961.0 1695.0,1014.0 1667.0,1044.0 1628.0,1094.0 1611.0,1114.0 1555.0,1185.0 1548.0,1232.0 1531.0,1336.0 1522.0,1407.0 1518.0,1440.0" fill="none" stroke="#f8a93a" stroke-width="3.6" stroke-linejoin="round" stroke-linecap="round"/>
<polyline points="1739.0,975.0 1795.0,950.0 1823.0,939.0 1878.0,917.0 1920.0,900.0" fill="none" stroke="#f8a93a" stroke-width="3.6" stroke-linejoin="round" stroke-linecap="round"/>
<polyline points="2144.0,880.0 2140.0,977.0 2148.0,1063.0 2140.0,1129.0 2117.0,1191.0 2093.0,1269.0 2090.0,1308.0 2093.0,1347.0 2109.0,1386.0 2121.0,1440.0" fill="none" stroke="#f8a93a" stroke-width="3.6" stroke-linejoin="round" stroke-linecap="round"/>
<polyline points="2190.0,919.0 2210.0,977.0 2241.0,1036.0 2265.0,1055.0 2253.0,1113.0 2272.0,1176.0 2296.0,1222.0 2311.0,1269.0 2323.0,1327.0 2350.0,1386.0 2358.0,1440.0" fill="none" stroke="#f8a93a" stroke-width="3.6" stroke-linejoin="round" stroke-linecap="round"/>
<polyline points="2031.0,1160.0 2105.0,1183.0 2264.0,1180.0 2323.0,1160.0 2373.0,1148.0 2486.0,1137.0" fill="none" stroke="#f8a93a" stroke-width="3.6" stroke-linejoin="round" stroke-linecap="round"/>
<polyline points="2323.0,1160.0 2380.0,1180.0 2430.0,1170.0 2486.0,1160.0" fill="none" stroke="#f8a93a" stroke-width="3.6" stroke-linejoin="round" stroke-linecap="round"/>
<polyline points="2201.0,530.0 2232.0,556.0 2265.0,589.0 2293.0,625.0 2294.0,667.0 2293.0,722.0 2291.0,778.0 2284.0,811.0 2257.0,856.0 2223.0,889.0 2180.0,905.0 2130.0,908.0 2070.0,890.0 2020.0,850.0 1998.0,790.0 1993.0,720.0 1996.0,640.0 2010.0,590.0 2040.0,550.0 2090.0,522.0 2150.0,515.0 2201.0,530.0" fill="none" stroke="#f8a93a" stroke-width="3.6" stroke-linejoin="round" stroke-linecap="round"/>
<polyline points="2303.0,662.0 2389.0,647.0 2484.0,627.0" fill="none" stroke="#f8a93a" stroke-width="3.6" stroke-linejoin="round" stroke-linecap="round"/>
<polyline points="2303.0,740.0 2389.0,732.0 2484.0,740.0" fill="none" stroke="#f8a93a" stroke-width="3.6" stroke-linejoin="round" stroke-linecap="round"/>
<polyline points="2291.0,775.0 2334.0,806.0 2404.0,861.0 2418.0,900.0 2430.0,940.0" fill="none" stroke="#f8a93a" stroke-width="3.6" stroke-linejoin="round" stroke-linecap="round"/>
<polyline points="2331.0,320.0 2300.0,440.0 2251.0,500.0 2215.0,530.0" fill="none" stroke="#f8a93a" stroke-width="3.6" stroke-linejoin="round" stroke-linecap="round"/>
<polyline points="2443.0,320.0 2389.0,398.0 2338.0,448.0 2296.0,483.0" fill="none" stroke="#f8a93a" stroke-width="3.6" stroke-linejoin="round" stroke-linecap="round"/>
<polyline points="2408.0,880.0 2428.0,927.0 2486.0,977.0" fill="none" stroke="#f8a93a" stroke-width="3.6" stroke-linejoin="round" stroke-linecap="round"/>
<polyline points="1517.0,480.0 1600.0,500.0 1700.0,520.0 1760.0,530.0 1850.0,545.0 1950.0,560.0" fill="none" stroke="#b9b9b9" stroke-width="1.4"/>
<polyline points="1780.0,332.0 1800.0,380.0 1850.0,420.0 1950.0,460.0 2000.0,480.0" fill="none" stroke="#b9b9b9" stroke-width="1.4"/>
<polyline points="2120.0,332.0 2110.0,400.0 2100.0,450.0" fill="none" stroke="#b9b9b9" stroke-width="1.4"/>
<polyline points="2200.0,900.0 2230.0,980.0 2260.0,1040.0 2290.0,1150.0 2330.0,1250.0 2360.0,1360.0" fill="none" stroke="#b9b9b9" stroke-width="1.4"/>
<circle cx="2053" cy="397" r="3.6" fill="#fff" stroke="#555" stroke-width="1.6"/>
<circle cx="1884" cy="420" r="3.6" fill="#fff" stroke="#555" stroke-width="1.6"/>
<circle cx="1651" cy="510" r="3.6" fill="#fff" stroke="#555" stroke-width="1.6"/>
<circle cx="1551" cy="479" r="3.6" fill="#fff" stroke="#555" stroke-width="1.6"/>
<circle cx="2037" cy="542" r="3.6" fill="#fff" stroke="#555" stroke-width="1.6"/>
<circle cx="1822" cy="573" r="3.6" fill="#fff" stroke="#555" stroke-width="1.6"/>
<circle cx="1857" cy="598" r="3.6" fill="#fff" stroke="#555" stroke-width="1.6"/>
<circle cx="1953" cy="616" r="3.6" fill="#fff" stroke="#555" stroke-width="1.6"/>
<circle cx="2360" cy="647" r="3.6" fill="#fff" stroke="#555" stroke-width="1.6"/>
<circle cx="2307" cy="690" r="3.6" fill="#fff" stroke="#555" stroke-width="1.6"/>
<circle cx="2386" cy="722" r="3.6" fill="#fff" stroke="#555" stroke-width="1.6"/>
<circle cx="1654" cy="741" r="3.6" fill="#fff" stroke="#555" stroke-width="1.6"/>
<circle cx="1915" cy="789" r="3.6" fill="#fff" stroke="#555" stroke-width="1.6"/>
<circle cx="2325" cy="785" r="3.6" fill="#fff" stroke="#555" stroke-width="1.6"/>
<circle cx="1763" cy="876" r="3.6" fill="#fff" stroke="#555" stroke-width="1.6"/>
<circle cx="2293" cy="901" r="3.6" fill="#fff" stroke="#555" stroke-width="1.6"/>
<circle cx="2197" cy="932" r="3.6" fill="#fff" stroke="#555" stroke-width="1.6"/>
<circle cx="1800" cy="946" r="3.6" fill="#fff" stroke="#555" stroke-width="1.6"/>
<circle cx="1983" cy="1003" r="3.6" fill="#fff" stroke="#555" stroke-width="1.6"/>
<circle cx="2147" cy="912" r="3.6" fill="#fff" stroke="#555" stroke-width="1.6"/>
<circle cx="1660" cy="1083" r="3.6" fill="#fff" stroke="#555" stroke-width="1.6"/>
<circle cx="2065" cy="1084" r="3.6" fill="#fff" stroke="#555" stroke-width="1.6"/>
<circle cx="2240" cy="1063" r="3.6" fill="#fff" stroke="#555" stroke-width="1.6"/>
<circle cx="1871" cy="1092" r="3.6" fill="#fff" stroke="#555" stroke-width="1.6"/>
<circle cx="1553" cy="1119" r="3.6" fill="#fff" stroke="#555" stroke-width="1.6"/>
<circle cx="2097" cy="1136" r="3.6" fill="#fff" stroke="#555" stroke-width="1.6"/>
<circle cx="2270" cy="1110" r="3.6" fill="#fff" stroke="#555" stroke-width="1.6"/>
<circle cx="1593" cy="1181" r="3.6" fill="#fff" stroke="#555" stroke-width="1.6"/>
<circle cx="2083" cy="1211" r="3.6" fill="#fff" stroke="#555" stroke-width="1.6"/>
<circle cx="1872" cy="1208" r="3.6" fill="#fff" stroke="#555" stroke-width="1.6"/>
<circle cx="2328" cy="1264" r="3.6" fill="#fff" stroke="#555" stroke-width="1.6"/>
<circle cx="1830" cy="1270" r="3.6" fill="#fff" stroke="#555" stroke-width="1.6"/>
<circle cx="2001" cy="1392" r="3.6" fill="#fff" stroke="#555" stroke-width="1.6"/>
<circle cx="2370" cy="1428" r="3.6" fill="#fff" stroke="#555" stroke-width="1.6"/>
<circle cx="1557" cy="1395" r="3.6" fill="#fff" stroke="#555" stroke-width="1.6"/>
<text x="2020" y="387" font-size="23" fill="#3a3a3a" text-anchor="start" stroke="#ffffff" stroke-width="3.5" stroke-opacity="0.8" paint-order="stroke" stroke-linejoin="round">Лобня</text>
<text x="1815" y="409" font-size="24" fill="#3a3a3a" text-anchor="start" font-weight="700" stroke="#ffffff" stroke-width="3.5" stroke-opacity="0.8" paint-order="stroke" stroke-linejoin="round">Зеленоград</text>
<text x="1620" y="500" font-size="23" fill="#3a3a3a" text-anchor="start" stroke="#ffffff" stroke-width="3.5" stroke-opacity="0.8" paint-order="stroke" stroke-linejoin="round">Истра</text>
<text x="1517" y="488" font-size="23" fill="#3a3a3a" text-anchor="start" stroke="#ffffff" stroke-width="3.5" stroke-opacity="0.8" paint-order="stroke" stroke-linejoin="round">ий</text>
<text x="1997" y="527" font-size="23" fill="#3a3a3a" text-anchor="start" font-weight="700" stroke="#ffffff" stroke-width="3.5" stroke-opacity="0.8" paint-order="stroke" stroke-linejoin="round">Химки</text>
<text x="1778" y="564" font-size="23" fill="#3a3a3a" text-anchor="start" stroke="#ffffff" stroke-width="3.5" stroke-opacity="0.8" paint-order="stroke" stroke-linejoin="round">Дедовск</text>
<text x="1748" y="607" font-size="23" fill="#3a3a3a" text-anchor="start" stroke="#ffffff" stroke-width="3.5" stroke-opacity="0.8" paint-order="stroke" stroke-linejoin="round">Нахабино</text>
<text x="1880" y="608" font-size="23" fill="#3a3a3a" text-anchor="start" font-weight="700" stroke="#ffffff" stroke-width="3.5" stroke-opacity="0.8" paint-order="stroke" stroke-linejoin="round">Красногорск</text>
<text x="2302" y="637" font-size="23" fill="#3a3a3a" text-anchor="start" font-weight="700" stroke="#ffffff" stroke-width="3.5" stroke-opacity="0.8" paint-order="stroke" stroke-linejoin="round">Балашиха</text>
<text x="2464" y="549" font-size="23" fill="#3a3a3a" text-anchor="start" stroke="#ffffff" stroke-width="3.5" stroke-opacity="0.8" paint-order="stroke" stroke-linejoin="round">Пс</text>
<text x="2266" y="677" font-size="23" fill="#3a3a3a" text-anchor="start" font-weight="700" stroke="#ffffff" stroke-width="3.5" stroke-opacity="0.8" paint-order="stroke" stroke-linejoin="round">Реутов</text>
<text x="1585" y="716" font-size="23" fill="#3a3a3a" text-anchor="start" stroke="#ffffff" stroke-width="3.5" stroke-opacity="0.8" paint-order="stroke" stroke-linejoin="round">Звенигород</text>
<text x="2297" y="733" font-size="23" fill="#3a3a3a" text-anchor="start" font-weight="700" stroke="#ffffff" stroke-width="3.5" stroke-opacity="0.8" paint-order="stroke" stroke-linejoin="round">Железнодорожн</text>
<text x="1858" y="772" font-size="23" fill="#3a3a3a" text-anchor="start" font-weight="700" stroke="#ffffff" stroke-width="3.5" stroke-opacity="0.8" paint-order="stroke" stroke-linejoin="round">Одинцово</text>
<text x="2277" y="775" font-size="23" fill="#3a3a3a" text-anchor="start" font-weight="700" stroke="#ffffff" stroke-width="3.5" stroke-opacity="0.8" paint-order="stroke" stroke-linejoin="round">Люберцы</text>
<text x="1683" y="865" font-size="23" fill="#3a3a3a" text-anchor="start" stroke="#ffffff" stroke-width="3.5" stroke-opacity="0.8" paint-order="stroke" stroke-linejoin="round">Краснознаменск</text>
<text x="2415" y="866" font-size="23" fill="#3a3a3a" text-anchor="start" font-weight="700" stroke="#ffffff" stroke-width="3.5" stroke-opacity="0.8" paint-order="stroke" stroke-linejoin="round">Жуков</text>
<text x="1977" y="884" font-size="22" fill="#3a3a3a" text-anchor="start" stroke="#ffffff" stroke-width="3.5" stroke-opacity="0.8" paint-order="stroke" stroke-linejoin="round">Московский</text>
<text x="2280" y="890" font-size="23" fill="#3a3a3a" text-anchor="start" stroke="#ffffff" stroke-width="3.5" stroke-opacity="0.8" paint-order="stroke" stroke-linejoin="round">Лыткарино</text>
<text x="2166" y="912" font-size="23" fill="#3a3a3a" text-anchor="start" font-weight="700" stroke="#ffffff" stroke-width="3.5" stroke-opacity="0.8" paint-order="stroke" stroke-linejoin="round">Видное</text>
<text x="1737" y="929" font-size="23" fill="#3a3a3a" text-anchor="start" stroke="#ffffff" stroke-width="3.5" stroke-opacity="0.8" paint-order="stroke" stroke-linejoin="round">Апрелевка</text>
<text x="1990" y="935" font-size="22" fill="#3a3a3a" text-anchor="start" stroke="#ffffff" stroke-width="3.5" stroke-opacity="0.8" paint-order="stroke" stroke-linejoin="round">Коммунарка</text>
<text x="1905" y="998" font-size="23" fill="#3a3a3a" text-anchor="start" stroke="#ffffff" stroke-width="3.5" stroke-opacity="0.8" paint-order="stroke" stroke-linejoin="round">Троицк</text>
<text x="1607" y="1064" font-size="23" fill="#3a3a3a" text-anchor="start" stroke="#ffffff" stroke-width="3.5" stroke-opacity="0.8" paint-order="stroke" stroke-linejoin="round">Киевский</text>
<text x="2045" y="1058" font-size="23" fill="#3a3a3a" text-anchor="start" font-weight="700" stroke="#ffffff" stroke-width="3.5" stroke-opacity="0.8" paint-order="stroke" stroke-linejoin="round">Подольск</text>
<text x="2175" y="1051" font-size="23" fill="#3a3a3a" text-anchor="start" font-weight="700" stroke="#ffffff" stroke-width="3.5" stroke-opacity="0.8" paint-order="stroke" stroke-linejoin="round">Домодедово</text>
<text x="1808" y="1089" font-size="22" fill="#3a3a3a" text-anchor="start" stroke="#ffffff" stroke-width="3.5" stroke-opacity="0.8" paint-order="stroke" stroke-linejoin="round">Шишкин Лес</text>
<text x="1517" y="1115" font-size="23" fill="#3a3a3a" text-anchor="start" stroke="#ffffff" stroke-width="3.5" stroke-opacity="0.8" paint-order="stroke" stroke-linejoin="round">ро-Фоминск</text>
<text x="2045" y="1127" font-size="23" fill="#3a3a3a" text-anchor="start" stroke="#ffffff" stroke-width="3.5" stroke-opacity="0.8" paint-order="stroke" stroke-linejoin="round">Климовск</text>
<text x="2210" y="1136" font-size="23" fill="#3a3a3a" text-anchor="start" stroke="#ffffff" stroke-width="3.5" stroke-opacity="0.8" paint-order="stroke" stroke-linejoin="round">Востряково</text>
<text x="1538" y="1183" font-size="23" fill="#3a3a3a" text-anchor="start" stroke="#ffffff" stroke-width="3.5" stroke-opacity="0.8" paint-order="stroke" stroke-linejoin="round">Молодёжный</text>
<text x="2030" y="1198" font-size="23" fill="#3a3a3a" text-anchor="start" stroke="#ffffff" stroke-width="3.5" stroke-opacity="0.8" paint-order="stroke" stroke-linejoin="round">Львовский</text>
<text x="1822" y="1200" font-size="22" fill="#3a3a3a" text-anchor="start" stroke="#ffffff" stroke-width="3.5" stroke-opacity="0.8" paint-order="stroke" stroke-linejoin="round">пос. ЛМС</text>
<text x="2280" y="1256" font-size="23" fill="#3a3a3a" text-anchor="start" stroke="#ffffff" stroke-width="3.5" stroke-opacity="0.8" paint-order="stroke" stroke-linejoin="round">Барыбино</text>
<text x="2018" y="1274" font-size="22" fill="#3a3a3a" text-anchor="start" stroke="#ffffff" stroke-width="3.5" stroke-opacity="0.8" paint-order="stroke" stroke-linejoin="round">Столбовая</text>
<text x="1517" y="1354" font-size="23" fill="#3a3a3a" text-anchor="start" stroke="#ffffff" stroke-width="3.5" stroke-opacity="0.8" paint-order="stroke" stroke-linejoin="round">ианово</text>
<text x="1982" y="1394" font-size="23" fill="#3a3a3a" text-anchor="start" stroke="#ffffff" stroke-width="3.5" stroke-opacity="0.8" paint-order="stroke" stroke-linejoin="round">Чехов</text>
<text x="1517" y="1422" font-size="23" fill="#3a3a3a" text-anchor="start" font-weight="700" stroke="#ffffff" stroke-width="3.5" stroke-opacity="0.8" paint-order="stroke" stroke-linejoin="round">к</text>
<text x="2323" y="1419" font-size="23" fill="#3a3a3a" text-anchor="start" stroke="#ffffff" stroke-width="3.5" stroke-opacity="0.8" paint-order="stroke" stroke-linejoin="round">Михнево</text>
<text x="2474" y="1428" font-size="23" fill="#3a3a3a" text-anchor="start" stroke="#ffffff" stroke-width="3.5" stroke-opacity="0.8" paint-order="stroke" stroke-linejoin="round">М</text>
<text x="2248" y="385" font-size="24" font-weight="700" fill="#3a3a3a" stroke="#fff" stroke-width="3" paint-order="stroke">Пушкино</text>
<text x="1988" y="455" font-size="20" fill="#3560b8">SVO</text>
<text x="1903" y="890" font-size="20" fill="#2553a8" fill-opacity="0.7">VKO</text>
<text x="2055" y="1009" font-size="20" fill="#2553a8" fill-opacity="0.7">OSF</text>
<text x="2313" y="1109" font-size="20" fill="#3560b8">DME</text>
<text x="2462" y="939" font-size="20" fill="#3560b8">ZIA</text>
<g opacity="1"><rect x="1919" y="850" width="22" height="22" rx="4" fill="#3a78e6"/><path d="M1923 862L1937 856L1938 858L1931 862L1935 868L1933 868L1928 863L1924 864Z" fill="#fff"/></g>
<g opacity="1"><rect x="2168" y="584" width="20" height="22" rx="3" fill="#ff7233"/><text x="2178" y="602" font-size="17" font-weight="700" fill="#fff" text-anchor="middle">₽</text></g>
<g opacity="1"><rect x="1810" y="1037" width="20" height="22" rx="3" fill="#ff7233"/><text x="1820" y="1055" font-size="17" font-weight="700" fill="#fff" text-anchor="middle">₽</text></g>
<rect x="1719" y="425" width="54" height="21" rx="4" fill="#4a86e8"/><text x="1746.0" y="441" font-size="16" font-weight="700" fill="#fff" text-anchor="middle">A-113</text>
<rect x="1663" y="607" width="54" height="21" rx="4" fill="#4a86e8"/><text x="1690.0" y="623" font-size="16" font-weight="700" fill="#fff" text-anchor="middle">A-107</text>
<rect x="1505" y="538" width="34" height="21" rx="4" fill="#4a86e8"/><text x="1522.0" y="554" font-size="16" font-weight="700" fill="#fff" text-anchor="middle">M-9</text>
<rect x="2450" y="619" width="44" height="21" rx="4" fill="#4a86e8"/><text x="2472.0" y="635" font-size="16" font-weight="700" fill="#fff" text-anchor="middle">M-7</text>
<rect x="2317" y="1346" width="38" height="21" rx="4" fill="#4a86e8"/><text x="2336.0" y="1362" font-size="16" font-weight="700" fill="#fff" text-anchor="middle">M-4</text>
<rect x="1518" y="1256" width="45" height="21" rx="4" fill="#1f8a5a"/><text x="1540.5" y="1272" font-size="16" font-weight="700" fill="#fff" text-anchor="middle">E101</text>
<rect x="2474" y="979" width="20" height="21" rx="4" fill="#1f8a5a"/><text x="2484.0" y="995" font-size="16" font-weight="700" fill="#fff" text-anchor="middle">E</text>
<path d="M1719.1 1316.9 L1706.2 1322.3 L1695.1 1313.8 L1697.0 1299.8 L1709.9 1294.4 L1721.0 1302.9ZM1641.9 1071.8 L1629.0 1077.2 L1617.9 1068.7 L1619.8 1054.7 L1632.7 1049.3 L1643.8 1057.8ZM1651.1 1094.4 L1638.2 1099.8 L1627.1 1091.2 L1629.0 1077.2 L1641.9 1071.8 L1653.0 1080.4ZM1669.5 1139.5 L1656.6 1145.0 L1645.5 1136.4 L1647.4 1122.4 L1660.3 1117.0 L1671.4 1125.5ZM1733.9 1297.5 L1721.0 1302.9 L1709.9 1294.4 L1711.8 1280.4 L1724.7 1274.9 L1735.8 1283.5ZM1743.1 1320.1 L1730.2 1325.5 L1719.1 1316.9 L1721.0 1302.9 L1733.9 1297.5 L1745.0 1306.1ZM1656.7 1052.4 L1643.8 1057.8 L1632.7 1049.3 L1634.6 1035.3 L1647.5 1029.8 L1658.6 1038.4ZM1665.9 1075.0 L1653.0 1080.4 L1641.9 1071.8 L1643.8 1057.8 L1656.7 1052.4 L1667.8 1061.0ZM1675.1 1097.5 L1662.2 1103.0 L1651.1 1094.4 L1653.0 1080.4 L1665.9 1075.0 L1677.0 1083.6ZM1684.3 1120.1 L1671.4 1125.5 L1660.3 1117.0 L1662.2 1103.0 L1675.1 1097.5 L1686.2 1106.1ZM1693.5 1142.7 L1680.6 1148.1 L1669.5 1139.5 L1671.4 1125.5 L1684.3 1120.1 L1695.4 1128.7ZM1702.7 1165.3 L1689.8 1170.7 L1678.7 1162.1 L1680.6 1148.1 L1693.5 1142.7 L1704.6 1151.3ZM1748.7 1278.1 L1735.8 1283.5 L1724.7 1274.9 L1726.6 1260.9 L1739.5 1255.5 L1750.5 1264.1ZM1757.9 1300.7 L1745.0 1306.1 L1733.9 1297.5 L1735.8 1283.5 L1748.7 1278.1 L1759.7 1286.7ZM1767.1 1323.2 L1754.2 1328.6 L1743.1 1320.1 L1745.0 1306.1 L1757.9 1300.7 L1768.9 1309.2ZM1776.3 1345.8 L1763.4 1351.2 L1752.3 1342.6 L1754.2 1328.6 L1767.1 1323.2 L1778.1 1331.8ZM1785.5 1368.4 L1772.6 1373.8 L1761.5 1365.2 L1763.4 1351.2 L1776.3 1345.8 L1787.3 1354.4ZM1671.5 1033.0 L1658.6 1038.4 L1647.5 1029.8 L1649.4 1015.8 L1662.3 1010.4 L1673.4 1019.0ZM1680.7 1055.6 L1667.8 1061.0 L1656.7 1052.4 L1658.6 1038.4 L1671.5 1033.0 L1682.6 1041.6ZM1689.9 1078.1 L1677.0 1083.6 L1665.9 1075.0 L1667.8 1061.0 L1680.7 1055.6 L1691.8 1064.1ZM1699.1 1100.7 L1686.2 1106.1 L1675.1 1097.5 L1677.0 1083.6 L1689.9 1078.1 L1701.0 1086.7ZM1708.3 1123.3 L1695.4 1128.7 L1684.3 1120.1 L1686.2 1106.1 L1699.1 1100.7 L1710.1 1109.3ZM1726.7 1168.4 L1713.8 1173.8 L1702.7 1165.3 L1704.6 1151.3 L1717.5 1145.8 L1728.5 1154.4ZM1735.9 1191.0 L1723.0 1196.4 L1711.9 1187.8 L1713.8 1173.8 L1726.7 1168.4 L1737.7 1177.0ZM1745.1 1213.5 L1732.2 1219.0 L1721.1 1210.4 L1723.0 1196.4 L1735.9 1191.0 L1746.9 1199.5ZM1754.3 1236.1 L1741.4 1241.5 L1730.3 1233.0 L1732.2 1219.0 L1745.1 1213.5 L1756.1 1222.1ZM1772.7 1281.2 L1759.7 1286.7 L1748.7 1278.1 L1750.5 1264.1 L1763.5 1258.7 L1774.5 1267.2ZM1781.9 1303.8 L1768.9 1309.2 L1757.9 1300.7 L1759.7 1286.7 L1772.7 1281.2 L1783.7 1289.8ZM1791.1 1326.4 L1778.1 1331.8 L1767.1 1323.2 L1768.9 1309.2 L1781.9 1303.8 L1792.9 1312.4ZM1800.3 1348.9 L1787.3 1354.4 L1776.3 1345.8 L1778.1 1331.8 L1791.1 1326.4 L1802.1 1335.0ZM1809.5 1371.5 L1796.5 1376.9 L1785.5 1368.4 L1787.3 1354.4 L1800.3 1348.9 L1811.3 1357.5ZM1686.3 1013.6 L1673.4 1019.0 L1662.3 1010.4 L1664.2 996.4 L1677.1 991.0 L1688.1 999.6ZM1695.5 1036.1 L1682.6 1041.6 L1671.5 1033.0 L1673.4 1019.0 L1686.3 1013.6 L1697.3 1022.2ZM1704.7 1058.7 L1691.8 1064.1 L1680.7 1055.6 L1682.6 1041.6 L1695.5 1036.1 L1706.5 1044.7ZM1713.9 1081.3 L1701.0 1086.7 L1689.9 1078.1 L1691.8 1064.1 L1704.7 1058.7 L1715.7 1067.3ZM1723.1 1103.9 L1710.1 1109.3 L1699.1 1100.7 L1701.0 1086.7 L1713.9 1081.3 L1724.9 1089.9ZM1732.3 1126.4 L1719.3 1131.8 L1708.3 1123.3 L1710.1 1109.3 L1723.1 1103.9 L1734.1 1112.4ZM1741.5 1149.0 L1728.5 1154.4 L1717.5 1145.8 L1719.3 1131.8 L1732.3 1126.4 L1743.3 1135.0ZM1759.9 1194.1 L1746.9 1199.5 L1735.9 1191.0 L1737.7 1177.0 L1750.7 1171.6 L1761.7 1180.1ZM1769.1 1216.7 L1756.1 1222.1 L1745.1 1213.5 L1746.9 1199.5 L1759.9 1194.1 L1770.9 1202.7ZM1796.7 1284.4 L1783.7 1289.8 L1772.7 1281.2 L1774.5 1267.2 L1787.5 1261.8 L1798.5 1270.4ZM1805.9 1307.0 L1792.9 1312.4 L1781.9 1303.8 L1783.7 1289.8 L1796.7 1284.4 L1807.7 1293.0ZM1815.1 1329.5 L1802.1 1335.0 L1791.1 1326.4 L1792.9 1312.4 L1805.9 1307.0 L1816.9 1315.5ZM1824.3 1352.1 L1811.3 1357.5 L1800.3 1348.9 L1802.1 1335.0 L1815.1 1329.5 L1826.1 1338.1ZM1710.3 1016.7 L1697.3 1022.2 L1686.3 1013.6 L1688.1 999.6 L1701.1 994.2 L1712.1 1002.7ZM1719.5 1039.3 L1706.5 1044.7 L1695.5 1036.1 L1697.3 1022.2 L1710.3 1016.7 L1721.3 1025.3ZM1728.7 1061.9 L1715.7 1067.3 L1704.7 1058.7 L1706.5 1044.7 L1719.5 1039.3 L1730.5 1047.9ZM1737.9 1084.4 L1724.9 1089.9 L1713.9 1081.3 L1715.7 1067.3 L1728.7 1061.9 L1739.7 1070.4ZM1747.1 1107.0 L1734.1 1112.4 L1723.1 1103.9 L1724.9 1089.9 L1737.9 1084.4 L1748.9 1093.0ZM1756.3 1129.6 L1743.3 1135.0 L1732.3 1126.4 L1734.1 1112.4 L1747.1 1107.0 L1758.1 1115.6ZM1765.5 1152.1 L1752.5 1157.6 L1741.5 1149.0 L1743.3 1135.0 L1756.3 1129.6 L1767.3 1138.1ZM1783.9 1197.3 L1770.9 1202.7 L1759.9 1194.1 L1761.7 1180.1 L1774.7 1174.7 L1785.7 1183.3ZM1793.1 1219.8 L1780.1 1225.3 L1769.1 1216.7 L1770.9 1202.7 L1783.9 1197.3 L1794.9 1205.8ZM1811.4 1265.0 L1798.5 1270.4 L1787.5 1261.8 L1789.3 1247.8 L1802.2 1242.4 L1813.3 1251.0ZM1820.6 1287.5 L1807.7 1293.0 L1796.7 1284.4 L1798.5 1270.4 L1811.4 1265.0 L1822.5 1273.6ZM1829.8 1310.1 L1816.9 1315.5 L1805.9 1307.0 L1807.7 1293.0 L1820.6 1287.5 L1831.7 1296.1ZM1734.3 1019.9 L1721.3 1025.3 L1710.3 1016.7 L1712.1 1002.7 L1725.1 997.3 L1736.1 1005.9ZM1752.7 1065.0 L1739.7 1070.4 L1728.7 1061.9 L1730.5 1047.9 L1743.5 1042.5 L1754.5 1051.0ZM1761.9 1087.6 L1748.9 1093.0 L1737.9 1084.4 L1739.7 1070.4 L1752.7 1065.0 L1763.7 1073.6ZM1771.0 1110.2 L1758.1 1115.6 L1747.1 1107.0 L1748.9 1093.0 L1761.9 1087.6 L1772.9 1096.2ZM1780.2 1132.7 L1767.3 1138.1 L1756.3 1129.6 L1758.1 1115.6 L1771.0 1110.2 L1782.1 1118.7ZM1798.6 1177.9 L1785.7 1183.3 L1774.7 1174.7 L1776.5 1160.7 L1789.4 1155.3 L1800.5 1163.9ZM1807.8 1200.4 L1794.9 1205.8 L1783.9 1197.3 L1785.7 1183.3 L1798.6 1177.9 L1809.7 1186.4ZM1826.2 1245.6 L1813.3 1251.0 L1802.2 1242.4 L1804.1 1228.4 L1817.0 1223.0 L1828.1 1231.6ZM1835.4 1268.1 L1822.5 1273.6 L1811.4 1265.0 L1813.3 1251.0 L1826.2 1245.6 L1837.3 1254.1ZM1785.8 1090.7 L1772.9 1096.2 L1761.9 1087.6 L1763.7 1073.6 L1776.6 1068.2 L1787.7 1076.7ZM1804.2 1135.9 L1791.3 1141.3 L1780.2 1132.7 L1782.1 1118.7 L1795.0 1113.3 L1806.1 1121.9ZM1813.4 1158.4 L1800.5 1163.9 L1789.4 1155.3 L1791.3 1141.3 L1804.2 1135.9 L1815.3 1144.4ZM1831.8 1203.6 L1818.9 1209.0 L1807.8 1200.4 L1809.7 1186.4 L1822.6 1181.0 L1833.7 1189.6ZM1841.0 1226.1 L1828.1 1231.6 L1817.0 1223.0 L1818.9 1209.0 L1831.8 1203.6 L1842.9 1212.2ZM1850.2 1248.7 L1837.3 1254.1 L1826.2 1245.6 L1828.1 1231.6 L1841.0 1226.1 L1852.1 1234.7ZM1859.4 1271.3 L1846.5 1276.7 L1835.4 1268.1 L1837.3 1254.1 L1850.2 1248.7 L1861.3 1257.3ZM1868.6 1293.9 L1855.7 1299.3 L1844.6 1290.7 L1846.5 1276.7 L1859.4 1271.3 L1870.5 1279.9ZM1809.8 1093.9 L1796.9 1099.3 L1785.8 1090.7 L1787.7 1076.7 L1800.6 1071.3 L1811.7 1079.9ZM1819.0 1116.5 L1806.1 1121.9 L1795.0 1113.3 L1796.9 1099.3 L1809.8 1093.9 L1820.9 1102.5ZM1828.2 1139.0 L1815.3 1144.4 L1804.2 1135.9 L1806.1 1121.9 L1819.0 1116.5 L1830.1 1125.0ZM1837.4 1161.6 L1824.5 1167.0 L1813.4 1158.4 L1815.3 1144.4 L1828.2 1139.0 L1839.3 1147.6ZM1846.6 1184.2 L1833.7 1189.6 L1822.6 1181.0 L1824.5 1167.0 L1837.4 1161.6 L1848.5 1170.2ZM1855.8 1206.7 L1842.9 1212.2 L1831.8 1203.6 L1833.7 1189.6 L1846.6 1184.2 L1857.7 1192.7ZM1865.0 1229.3 L1852.1 1234.7 L1841.0 1226.1 L1842.9 1212.2 L1855.8 1206.7 L1866.9 1215.3ZM1874.2 1251.9 L1861.3 1257.3 L1850.2 1248.7 L1852.1 1234.7 L1865.0 1229.3 L1876.1 1237.9ZM1883.4 1274.4 L1870.5 1279.9 L1859.4 1271.3 L1861.3 1257.3 L1874.2 1251.9 L1885.3 1260.4ZM1824.6 1074.5 L1811.7 1079.9 L1800.6 1071.3 L1802.5 1057.3 L1815.4 1051.9 L1826.5 1060.5ZM1833.8 1097.0 L1820.9 1102.5 L1809.8 1093.9 L1811.7 1079.9 L1824.6 1074.5 L1835.7 1083.0ZM1843.0 1119.6 L1830.1 1125.0 L1819.0 1116.5 L1820.9 1102.5 L1833.8 1097.0 L1844.9 1105.6ZM1852.2 1142.2 L1839.3 1147.6 L1828.2 1139.0 L1830.1 1125.0 L1843.0 1119.6 L1854.1 1128.2ZM1861.4 1164.7 L1848.5 1170.2 L1837.4 1161.6 L1839.3 1147.6 L1852.2 1142.2 L1863.3 1150.8ZM1870.6 1187.3 L1857.7 1192.7 L1846.6 1184.2 L1848.5 1170.2 L1861.4 1164.7 L1872.5 1173.3ZM1879.8 1209.9 L1866.9 1215.3 L1855.8 1206.7 L1857.7 1192.7 L1870.6 1187.3 L1881.7 1195.9ZM1889.0 1232.5 L1876.1 1237.9 L1865.0 1229.3 L1866.9 1215.3 L1879.8 1209.9 L1890.9 1218.5ZM1898.2 1255.0 L1885.3 1260.4 L1874.2 1251.9 L1876.1 1237.9 L1889.0 1232.5 L1900.1 1241.0ZM1907.4 1277.6 L1894.5 1283.0 L1883.4 1274.4 L1885.3 1260.4 L1898.2 1255.0 L1909.3 1263.6ZM1830.2 1032.5 L1817.3 1037.9 L1806.2 1029.3 L1808.1 1015.3 L1821.0 1009.9 L1832.1 1018.5ZM1839.4 1055.1 L1826.5 1060.5 L1815.4 1051.9 L1817.3 1037.9 L1830.2 1032.5 L1841.3 1041.1ZM1848.6 1077.6 L1835.7 1083.0 L1824.6 1074.5 L1826.5 1060.5 L1839.4 1055.1 L1850.5 1063.6ZM1857.8 1100.2 L1844.9 1105.6 L1833.8 1097.0 L1835.7 1083.0 L1848.6 1077.6 L1859.7 1086.2ZM1867.0 1122.8 L1854.1 1128.2 L1843.0 1119.6 L1844.9 1105.6 L1857.8 1100.2 L1868.9 1108.8ZM1876.2 1145.3 L1863.3 1150.8 L1852.2 1142.2 L1854.1 1128.2 L1867.0 1122.8 L1878.1 1131.3ZM1885.4 1167.9 L1872.5 1173.3 L1861.4 1164.7 L1863.3 1150.8 L1876.2 1145.3 L1887.3 1153.9ZM1894.6 1190.5 L1881.7 1195.9 L1870.6 1187.3 L1872.5 1173.3 L1885.4 1167.9 L1896.5 1176.5ZM1903.8 1213.0 L1890.9 1218.5 L1879.8 1209.9 L1881.7 1195.9 L1894.6 1190.5 L1905.7 1199.0ZM1913.0 1235.6 L1900.1 1241.0 L1889.0 1232.5 L1890.9 1218.5 L1903.8 1213.0 L1914.9 1221.6ZM1922.2 1258.2 L1909.3 1263.6 L1898.2 1255.0 L1900.1 1241.0 L1913.0 1235.6 L1924.0 1244.2ZM1931.4 1280.7 L1918.5 1286.2 L1907.4 1277.6 L1909.3 1263.6 L1922.2 1258.2 L1933.2 1266.7ZM1845.0 1013.1 L1832.1 1018.5 L1821.0 1009.9 L1822.9 995.9 L1835.8 990.5 L1846.9 999.1ZM1854.2 1035.6 L1841.3 1041.1 L1830.2 1032.5 L1832.1 1018.5 L1845.0 1013.1 L1856.1 1021.6ZM1863.4 1058.2 L1850.5 1063.6 L1839.4 1055.1 L1841.3 1041.1 L1854.2 1035.6 L1865.3 1044.2ZM1872.6 1080.8 L1859.7 1086.2 L1848.6 1077.6 L1850.5 1063.6 L1863.4 1058.2 L1874.5 1066.8ZM1881.8 1103.3 L1868.9 1108.8 L1857.8 1100.2 L1859.7 1086.2 L1872.6 1080.8 L1883.6 1089.4ZM1891.0 1125.9 L1878.1 1131.3 L1867.0 1122.8 L1868.9 1108.8 L1881.8 1103.3 L1892.8 1111.9ZM1900.2 1148.5 L1887.3 1153.9 L1876.2 1145.3 L1878.1 1131.3 L1891.0 1125.9 L1902.0 1134.5ZM1909.4 1171.1 L1896.5 1176.5 L1885.4 1167.9 L1887.3 1153.9 L1900.2 1148.5 L1911.2 1157.1ZM1918.6 1193.6 L1905.7 1199.0 L1894.6 1190.5 L1896.5 1176.5 L1909.4 1171.1 L1920.4 1179.6ZM1927.8 1216.2 L1914.9 1221.6 L1903.8 1213.0 L1905.7 1199.0 L1918.6 1193.6 L1929.6 1202.2ZM1937.0 1238.8 L1924.0 1244.2 L1913.0 1235.6 L1914.9 1221.6 L1927.8 1216.2 L1938.8 1224.8ZM1946.2 1261.3 L1933.2 1266.7 L1922.2 1258.2 L1924.0 1244.2 L1937.0 1238.8 L1948.0 1247.3ZM1955.4 1283.9 L1942.4 1289.3 L1931.4 1280.7 L1933.2 1266.7 L1946.2 1261.3 L1957.2 1269.9ZM1823.0 903.4 L1810.1 908.8 L1799.0 900.2 L1800.9 886.2 L1813.8 880.8 L1824.9 889.4ZM1832.2 926.0 L1819.3 931.4 L1808.2 922.8 L1810.1 908.8 L1823.0 903.4 L1834.1 912.0ZM1841.4 948.5 L1828.5 953.9 L1817.4 945.4 L1819.3 931.4 L1832.2 926.0 L1843.3 934.5ZM1850.6 971.1 L1837.7 976.5 L1826.6 967.9 L1828.5 953.9 L1841.4 948.5 L1852.4 957.1ZM1859.8 993.7 L1846.9 999.1 L1835.8 990.5 L1837.7 976.5 L1850.6 971.1 L1861.6 979.7ZM1869.0 1016.2 L1856.1 1021.6 L1845.0 1013.1 L1846.9 999.1 L1859.8 993.7 L1870.8 1002.2ZM1878.2 1038.8 L1865.3 1044.2 L1854.2 1035.6 L1856.1 1021.6 L1869.0 1016.2 L1880.0 1024.8ZM1887.4 1061.4 L1874.5 1066.8 L1863.4 1058.2 L1865.3 1044.2 L1878.2 1038.8 L1889.2 1047.4ZM1896.6 1083.9 L1883.6 1089.4 L1872.6 1080.8 L1874.5 1066.8 L1887.4 1061.4 L1898.4 1069.9ZM1905.8 1106.5 L1892.8 1111.9 L1881.8 1103.3 L1883.6 1089.4 L1896.6 1083.9 L1907.6 1092.5ZM1915.0 1129.1 L1902.0 1134.5 L1891.0 1125.9 L1892.8 1111.9 L1905.8 1106.5 L1916.8 1115.1ZM1924.2 1151.6 L1911.2 1157.1 L1900.2 1148.5 L1902.0 1134.5 L1915.0 1129.1 L1926.0 1137.6ZM1933.4 1174.2 L1920.4 1179.6 L1909.4 1171.1 L1911.2 1157.1 L1924.2 1151.6 L1935.2 1160.2ZM1942.6 1196.8 L1929.6 1202.2 L1918.6 1193.6 L1920.4 1179.6 L1933.4 1174.2 L1944.4 1182.8ZM1951.8 1219.3 L1938.8 1224.8 L1927.8 1216.2 L1929.6 1202.2 L1942.6 1196.8 L1953.6 1205.3ZM1961.0 1241.9 L1948.0 1247.3 L1937.0 1238.8 L1938.8 1224.8 L1951.8 1219.3 L1962.8 1227.9ZM1970.2 1264.5 L1957.2 1269.9 L1946.2 1261.3 L1948.0 1247.3 L1961.0 1241.9 L1972.0 1250.5ZM1979.4 1287.0 L1966.4 1292.5 L1955.4 1283.9 L1957.2 1269.9 L1970.2 1264.5 L1981.2 1273.0ZM1782.2 749.0 L1769.2 754.4 L1758.2 745.8 L1760.0 731.8 L1773.0 726.4 L1784.0 735.0ZM1837.8 884.0 L1824.9 889.4 L1813.8 880.8 L1815.7 866.8 L1828.6 861.4 L1839.6 870.0ZM1847.0 906.5 L1834.1 912.0 L1823.0 903.4 L1824.9 889.4 L1837.8 884.0 L1848.8 892.5ZM1856.2 929.1 L1843.3 934.5 L1832.2 926.0 L1834.1 912.0 L1847.0 906.5 L1858.0 915.1ZM1865.4 951.7 L1852.4 957.1 L1841.4 948.5 L1843.3 934.5 L1856.2 929.1 L1867.2 937.7ZM1874.6 974.2 L1861.6 979.7 L1850.6 971.1 L1852.4 957.1 L1865.4 951.7 L1876.4 960.2ZM1883.8 996.8 L1870.8 1002.2 L1859.8 993.7 L1861.6 979.7 L1874.6 974.2 L1885.6 982.8ZM1893.0 1019.4 L1880.0 1024.8 L1869.0 1016.2 L1870.8 1002.2 L1883.8 996.8 L1894.8 1005.4ZM1902.2 1041.9 L1889.2 1047.4 L1878.2 1038.8 L1880.0 1024.8 L1893.0 1019.4 L1904.0 1028.0ZM1911.4 1064.5 L1898.4 1069.9 L1887.4 1061.4 L1889.2 1047.4 L1902.2 1041.9 L1913.2 1050.5ZM1920.6 1087.1 L1907.6 1092.5 L1896.6 1083.9 L1898.4 1069.9 L1911.4 1064.5 L1922.4 1073.1ZM1929.8 1109.7 L1916.8 1115.1 L1905.8 1106.5 L1907.6 1092.5 L1920.6 1087.1 L1931.6 1095.7ZM1948.2 1154.8 L1935.2 1160.2 L1924.2 1151.6 L1926.0 1137.6 L1939.0 1132.2 L1950.0 1140.8ZM1957.4 1177.4 L1944.4 1182.8 L1933.4 1174.2 L1935.2 1160.2 L1948.2 1154.8 L1959.2 1163.4ZM1966.6 1199.9 L1953.6 1205.3 L1942.6 1196.8 L1944.4 1182.8 L1957.4 1177.4 L1968.4 1185.9ZM1975.7 1222.5 L1962.8 1227.9 L1951.8 1219.3 L1953.6 1205.3 L1966.6 1199.9 L1977.6 1208.5ZM1984.9 1245.1 L1972.0 1250.5 L1961.0 1241.9 L1962.8 1227.9 L1975.7 1222.5 L1986.8 1231.1ZM1994.1 1267.6 L1981.2 1273.0 L1970.2 1264.5 L1972.0 1250.5 L1984.9 1245.1 L1996.0 1253.6ZM2003.3 1290.2 L1990.4 1295.6 L1979.4 1287.0 L1981.2 1273.0 L1994.1 1267.6 L2005.2 1276.2ZM1861.8 887.1 L1848.8 892.5 L1837.8 884.0 L1839.6 870.0 L1852.6 864.6 L1863.6 873.1ZM1871.0 909.7 L1858.0 915.1 L1847.0 906.5 L1848.8 892.5 L1861.8 887.1 L1872.8 895.7ZM1880.2 932.3 L1867.2 937.7 L1856.2 929.1 L1858.0 915.1 L1871.0 909.7 L1882.0 918.3ZM1889.4 954.8 L1876.4 960.2 L1865.4 951.7 L1867.2 937.7 L1880.2 932.3 L1891.2 940.8ZM1898.6 977.4 L1885.6 982.8 L1874.6 974.2 L1876.4 960.2 L1889.4 954.8 L1900.4 963.4ZM1907.8 1000.0 L1894.8 1005.4 L1883.8 996.8 L1885.6 982.8 L1898.6 977.4 L1909.6 986.0ZM1917.0 1022.5 L1904.0 1028.0 L1893.0 1019.4 L1894.8 1005.4 L1907.8 1000.0 L1918.8 1008.5ZM1926.2 1045.1 L1913.2 1050.5 L1902.2 1041.9 L1904.0 1028.0 L1917.0 1022.5 L1928.0 1031.1ZM1935.4 1067.7 L1922.4 1073.1 L1911.4 1064.5 L1913.2 1050.5 L1926.2 1045.1 L1937.2 1053.7ZM1944.5 1090.2 L1931.6 1095.7 L1920.6 1087.1 L1922.4 1073.1 L1935.4 1067.7 L1946.4 1076.2ZM1953.7 1112.8 L1940.8 1118.2 L1929.8 1109.7 L1931.6 1095.7 L1944.5 1090.2 L1955.6 1098.8ZM1962.9 1135.4 L1950.0 1140.8 L1939.0 1132.2 L1940.8 1118.2 L1953.7 1112.8 L1964.8 1121.4ZM1972.1 1157.9 L1959.2 1163.4 L1948.2 1154.8 L1950.0 1140.8 L1962.9 1135.4 L1974.0 1143.9ZM1981.3 1180.5 L1968.4 1185.9 L1957.4 1177.4 L1959.2 1163.4 L1972.1 1157.9 L1983.2 1166.5ZM1990.5 1203.1 L1977.6 1208.5 L1966.6 1199.9 L1968.4 1185.9 L1981.3 1180.5 L1992.4 1189.1ZM1999.7 1225.6 L1986.8 1231.1 L1975.7 1222.5 L1977.6 1208.5 L1990.5 1203.1 L2001.6 1211.6ZM2008.9 1248.2 L1996.0 1253.6 L1984.9 1245.1 L1986.8 1231.1 L1999.7 1225.6 L2010.8 1234.2ZM2018.1 1270.8 L2005.2 1276.2 L1994.1 1267.6 L1996.0 1253.6 L2008.9 1248.2 L2020.0 1256.8ZM1818.8 730.2 L1805.8 735.6 L1794.8 727.0 L1796.6 713.0 L1809.6 707.6 L1820.6 716.2ZM1885.8 890.3 L1872.8 895.7 L1861.8 887.1 L1863.6 873.1 L1876.6 867.7 L1887.6 876.3ZM1895.0 912.8 L1882.0 918.3 L1871.0 909.7 L1872.8 895.7 L1885.8 890.3 L1896.8 898.8ZM1904.1 935.4 L1891.2 940.8 L1880.2 932.3 L1882.0 918.3 L1895.0 912.8 L1906.0 921.4ZM1913.3 958.0 L1900.4 963.4 L1889.4 954.8 L1891.2 940.8 L1904.1 935.4 L1915.2 944.0ZM1922.5 980.5 L1909.6 986.0 L1898.6 977.4 L1900.4 963.4 L1913.3 958.0 L1924.4 966.6ZM1931.7 1003.1 L1918.8 1008.5 L1907.8 1000.0 L1909.6 986.0 L1922.5 980.5 L1933.6 989.1ZM1959.3 1070.8 L1946.4 1076.2 L1935.4 1067.7 L1937.2 1053.7 L1950.1 1048.3 L1961.2 1056.8ZM1968.5 1093.4 L1955.6 1098.8 L1944.5 1090.2 L1946.4 1076.2 L1959.3 1070.8 L1970.4 1079.4ZM1977.7 1116.0 L1964.8 1121.4 L1953.7 1112.8 L1955.6 1098.8 L1968.5 1093.4 L1979.6 1102.0ZM1986.9 1138.5 L1974.0 1143.9 L1962.9 1135.4 L1964.8 1121.4 L1977.7 1116.0 L1988.8 1124.5ZM1996.1 1161.1 L1983.2 1166.5 L1972.1 1157.9 L1974.0 1143.9 L1986.9 1138.5 L1998.0 1147.1ZM2005.3 1183.7 L1992.4 1189.1 L1981.3 1180.5 L1983.2 1166.5 L1996.1 1161.1 L2007.2 1169.7ZM2014.5 1206.2 L2001.6 1211.6 L1990.5 1203.1 L1992.4 1189.1 L2005.3 1183.7 L2016.4 1192.2ZM1900.5 870.9 L1887.6 876.3 L1876.6 867.7 L1878.4 853.7 L1891.3 848.3 L1902.4 856.9ZM1909.7 893.4 L1896.8 898.8 L1885.8 890.3 L1887.6 876.3 L1900.5 870.9 L1911.6 879.4ZM1918.9 916.0 L1906.0 921.4 L1895.0 912.8 L1896.8 898.8 L1909.7 893.4 L1920.8 902.0ZM1928.1 938.6 L1915.2 944.0 L1904.1 935.4 L1906.0 921.4 L1918.9 916.0 L1930.0 924.6ZM1937.3 961.1 L1924.4 966.6 L1913.3 958.0 L1915.2 944.0 L1928.1 938.6 L1939.2 947.1ZM1946.5 983.7 L1933.6 989.1 L1922.5 980.5 L1924.4 966.6 L1937.3 961.1 L1948.4 969.7ZM1955.7 1006.3 L1942.8 1011.7 L1931.7 1003.1 L1933.6 989.1 L1946.5 983.7 L1957.6 992.3ZM1964.9 1028.8 L1952.0 1034.3 L1940.9 1025.7 L1942.8 1011.7 L1955.7 1006.3 L1966.8 1014.8ZM1974.1 1051.4 L1961.2 1056.8 L1950.1 1048.3 L1952.0 1034.3 L1964.9 1028.8 L1976.0 1037.4ZM1983.3 1074.0 L1970.4 1079.4 L1959.3 1070.8 L1961.2 1056.8 L1974.1 1051.4 L1985.2 1060.0ZM1992.5 1096.5 L1979.6 1102.0 L1968.5 1093.4 L1970.4 1079.4 L1983.3 1074.0 L1994.4 1082.5ZM2001.7 1119.1 L1988.8 1124.5 L1977.7 1116.0 L1979.6 1102.0 L1992.5 1096.5 L2003.6 1105.1ZM2010.9 1141.7 L1998.0 1147.1 L1986.9 1138.5 L1988.8 1124.5 L2001.7 1119.1 L2012.8 1127.7ZM2020.1 1164.2 L2007.2 1169.7 L1996.1 1161.1 L1998.0 1147.1 L2010.9 1141.7 L2022.0 1150.2ZM1915.3 851.4 L1902.4 856.9 L1891.3 848.3 L1893.2 834.3 L1906.1 828.9 L1917.2 837.4ZM1924.5 874.0 L1911.6 879.4 L1900.5 870.9 L1902.4 856.9 L1915.3 851.4 L1926.4 860.0ZM1933.7 896.6 L1920.8 902.0 L1909.7 893.4 L1911.6 879.4 L1924.5 874.0 L1935.6 882.6ZM1942.9 919.1 L1930.0 924.6 L1918.9 916.0 L1920.8 902.0 L1933.7 896.6 L1944.8 905.2ZM1952.1 941.7 L1939.2 947.1 L1928.1 938.6 L1930.0 924.6 L1942.9 919.1 L1954.0 927.7ZM1961.3 964.3 L1948.4 969.7 L1937.3 961.1 L1939.2 947.1 L1952.1 941.7 L1963.2 950.3ZM1970.5 986.9 L1957.6 992.3 L1946.5 983.7 L1948.4 969.7 L1961.3 964.3 L1972.4 972.9ZM1979.7 1009.4 L1966.8 1014.8 L1955.7 1006.3 L1957.6 992.3 L1970.5 986.9 L1981.6 995.4ZM1988.9 1032.0 L1976.0 1037.4 L1964.9 1028.8 L1966.8 1014.8 L1979.7 1009.4 L1990.8 1018.0ZM1998.1 1054.6 L1985.2 1060.0 L1974.1 1051.4 L1976.0 1037.4 L1988.9 1032.0 L2000.0 1040.6ZM2007.3 1077.1 L1994.4 1082.5 L1983.3 1074.0 L1985.2 1060.0 L1998.1 1054.6 L2009.2 1063.1ZM2016.5 1099.7 L2003.6 1105.1 L1992.5 1096.5 L1994.4 1082.5 L2007.3 1077.1 L2018.4 1085.7ZM2025.7 1122.3 L2012.8 1127.7 L2001.7 1119.1 L2003.6 1105.1 L2016.5 1099.7 L2027.6 1108.3ZM2034.9 1144.8 L2022.0 1150.2 L2010.9 1141.7 L2012.8 1127.7 L2025.7 1122.3 L2036.8 1130.8ZM1930.1 832.0 L1917.2 837.4 L1906.1 828.9 L1908.0 814.9 L1920.9 809.5 L1932.0 818.0ZM1939.3 854.6 L1926.4 860.0 L1915.3 851.4 L1917.2 837.4 L1930.1 832.0 L1941.2 840.6ZM1948.5 877.2 L1935.6 882.6 L1924.5 874.0 L1926.4 860.0 L1939.3 854.6 L1950.4 863.2ZM1957.7 899.7 L1944.8 905.2 L1933.7 896.6 L1935.6 882.6 L1948.5 877.2 L1959.6 885.7ZM1966.9 922.3 L1954.0 927.7 L1942.9 919.1 L1944.8 905.2 L1957.7 899.7 L1968.8 908.3ZM1976.1 944.9 L1963.2 950.3 L1952.1 941.7 L1954.0 927.7 L1966.9 922.3 L1978.0 930.9ZM1985.3 967.4 L1972.4 972.9 L1961.3 964.3 L1963.2 950.3 L1976.1 944.9 L1987.2 953.4ZM1994.5 990.0 L1981.6 995.4 L1970.5 986.9 L1972.4 972.9 L1985.3 967.4 L1996.4 976.0ZM2003.7 1012.6 L1990.8 1018.0 L1979.7 1009.4 L1981.6 995.4 L1994.5 990.0 L2005.6 998.6ZM2031.3 1080.3 L2018.4 1085.7 L2007.3 1077.1 L2009.2 1063.1 L2022.1 1057.7 L2033.2 1066.3ZM2040.5 1102.8 L2027.6 1108.3 L2016.5 1099.7 L2018.4 1085.7 L2031.3 1080.3 L2042.4 1088.8ZM2049.7 1125.4 L2036.8 1130.8 L2025.7 1122.3 L2027.6 1108.3 L2040.5 1102.8 L2051.6 1111.4ZM1954.1 835.2 L1941.2 840.6 L1930.1 832.0 L1932.0 818.0 L1944.9 812.6 L1956.0 821.2ZM1963.3 857.7 L1950.4 863.2 L1939.3 854.6 L1941.2 840.6 L1954.1 835.2 L1965.2 843.8ZM1972.5 880.3 L1959.6 885.7 L1948.5 877.2 L1950.4 863.2 L1963.3 857.7 L1974.4 866.3ZM1981.7 902.9 L1968.8 908.3 L1957.7 899.7 L1959.6 885.7 L1972.5 880.3 L1983.6 888.9ZM1990.9 925.5 L1978.0 930.9 L1966.9 922.3 L1968.8 908.3 L1981.7 902.9 L1992.8 911.5ZM2000.1 948.0 L1987.2 953.4 L1976.1 944.9 L1978.0 930.9 L1990.9 925.5 L2002.0 934.0ZM2009.3 970.6 L1996.4 976.0 L1985.3 967.4 L1987.2 953.4 L2000.1 948.0 L2011.2 956.6ZM2018.5 993.2 L2005.6 998.6 L1994.5 990.0 L1996.4 976.0 L2009.3 970.6 L2020.4 979.2ZM2027.7 1015.7 L2014.8 1021.1 L2003.7 1012.6 L2005.6 998.6 L2018.5 993.2 L2029.6 1001.7ZM1959.7 793.2 L1946.8 798.6 L1935.7 790.0 L1937.6 776.0 L1950.5 770.6 L1961.6 779.2ZM1968.9 815.8 L1956.0 821.2 L1944.9 812.6 L1946.8 798.6 L1959.7 793.2 L1970.8 801.8ZM1978.1 838.3 L1965.2 843.8 L1954.1 835.2 L1956.0 821.2 L1968.9 815.8 L1980.0 824.3ZM1987.3 860.9 L1974.4 866.3 L1963.3 857.7 L1965.2 843.8 L1978.1 838.3 L1989.2 846.9ZM2014.9 928.6 L2002.0 934.0 L1990.9 925.5 L1992.8 911.5 L2005.7 906.0 L2016.8 914.6ZM2024.1 951.2 L2011.2 956.6 L2000.1 948.0 L2002.0 934.0 L2014.9 928.6 L2025.9 937.2ZM2033.3 973.7 L2020.4 979.2 L2009.3 970.6 L2011.2 956.6 L2024.1 951.2 L2035.1 959.7ZM2042.5 996.3 L2029.6 1001.7 L2018.5 993.2 L2020.4 979.2 L2033.3 973.7 L2044.3 982.3ZM2051.7 1018.9 L2038.8 1024.3 L2027.7 1015.7 L2029.6 1001.7 L2042.5 996.3 L2053.5 1004.9ZM2060.9 1041.4 L2048.0 1046.9 L2036.9 1038.3 L2038.8 1024.3 L2051.7 1018.9 L2062.7 1027.4ZM1974.5 773.8 L1961.6 779.2 L1950.5 770.6 L1952.4 756.6 L1965.3 751.2 L1976.4 759.8ZM1983.7 796.3 L1970.8 801.8 L1959.7 793.2 L1961.6 779.2 L1974.5 773.8 L1985.5 782.4ZM1992.9 818.9 L1980.0 824.3 L1968.9 815.8 L1970.8 801.8 L1983.7 796.3 L1994.7 804.9ZM2002.1 841.5 L1989.2 846.9 L1978.1 838.3 L1980.0 824.3 L1992.9 818.9 L2003.9 827.5ZM2011.3 864.1 L1998.4 869.5 L1987.3 860.9 L1989.2 846.9 L2002.1 841.5 L2013.1 850.1ZM2020.5 886.6 L2007.6 892.0 L1996.5 883.5 L1998.4 869.5 L2011.3 864.1 L2022.3 872.6ZM2029.7 909.2 L2016.8 914.6 L2005.7 906.0 L2007.6 892.0 L2020.5 886.6 L2031.5 895.2ZM2038.9 931.8 L2025.9 937.2 L2014.9 928.6 L2016.8 914.6 L2029.7 909.2 L2040.7 917.8ZM2048.1 954.3 L2035.1 959.7 L2024.1 951.2 L2025.9 937.2 L2038.9 931.8 L2049.9 940.3ZM2057.3 976.9 L2044.3 982.3 L2033.3 973.7 L2035.1 959.7 L2048.1 954.3 L2059.1 962.9ZM2066.5 999.5 L2053.5 1004.9 L2042.5 996.3 L2044.3 982.3 L2057.3 976.9 L2068.3 985.5ZM2075.7 1022.0 L2062.7 1027.4 L2051.7 1018.9 L2053.5 1004.9 L2066.5 999.5 L2077.5 1008.0ZM2084.9 1044.6 L2071.9 1050.0 L2060.9 1041.4 L2062.7 1027.4 L2075.7 1022.0 L2086.7 1030.6ZM2094.1 1067.2 L2081.1 1072.6 L2070.1 1064.0 L2071.9 1050.0 L2084.9 1044.6 L2095.9 1053.2ZM1946.6 652.1 L1933.6 657.5 L1922.6 648.9 L1924.4 634.9 L1937.4 629.5 L1948.4 638.1ZM1989.3 754.4 L1976.4 759.8 L1965.3 751.2 L1967.2 737.2 L1980.1 731.8 L1991.1 740.4ZM2016.9 822.1 L2003.9 827.5 L1992.9 818.9 L1994.7 804.9 L2007.7 799.5 L2018.7 808.1ZM2026.1 844.6 L2013.1 850.1 L2002.1 841.5 L2003.9 827.5 L2016.9 822.1 L2027.9 830.6ZM2035.3 867.2 L2022.3 872.6 L2011.3 864.1 L2013.1 850.1 L2026.1 844.6 L2037.1 853.2ZM2044.5 889.8 L2031.5 895.2 L2020.5 886.6 L2022.3 872.6 L2035.3 867.2 L2046.3 875.8ZM2053.7 912.3 L2040.7 917.8 L2029.7 909.2 L2031.5 895.2 L2044.5 889.8 L2055.5 898.3ZM2062.9 934.9 L2049.9 940.3 L2038.9 931.8 L2040.7 917.8 L2053.7 912.3 L2064.7 920.9ZM2072.1 957.5 L2059.1 962.9 L2048.1 954.3 L2049.9 940.3 L2062.9 934.9 L2073.9 943.5ZM2081.3 980.0 L2068.3 985.5 L2057.3 976.9 L2059.1 962.9 L2072.1 957.5 L2083.1 966.0ZM2090.5 1002.6 L2077.5 1008.0 L2066.5 999.5 L2068.3 985.5 L2081.3 980.0 L2092.3 988.6ZM2099.7 1025.2 L2086.7 1030.6 L2075.7 1022.0 L2077.5 1008.0 L2090.5 1002.6 L2101.5 1011.2ZM2108.9 1047.7 L2095.9 1053.2 L2084.9 1044.6 L2086.7 1030.6 L2099.7 1025.2 L2110.7 1033.8ZM1970.8 653.6 L1957.8 659.0 L1946.8 650.4 L1948.6 636.4 L1961.6 631.0 L1972.6 639.6ZM1976.5 667.2 L1963.5 672.7 L1952.5 664.1 L1954.3 650.1 L1967.3 644.7 L1978.3 653.2ZM2004.1 734.9 L1991.1 740.4 L1980.1 731.8 L1981.9 717.8 L1994.9 712.4 L2005.9 721.0ZM2013.3 757.5 L2000.3 762.9 L1989.3 754.4 L1991.1 740.4 L2004.1 734.9 L2015.1 743.5ZM2022.5 780.1 L2009.5 785.5 L1998.5 776.9 L2000.3 762.9 L2013.3 757.5 L2024.3 766.1ZM2031.7 802.7 L2018.7 808.1 L2007.7 799.5 L2009.5 785.5 L2022.5 780.1 L2033.5 788.7ZM2040.9 825.2 L2027.9 830.6 L2016.9 822.1 L2018.7 808.1 L2031.7 802.7 L2042.7 811.2ZM2050.1 847.8 L2037.1 853.2 L2026.1 844.6 L2027.9 830.6 L2040.9 825.2 L2051.9 833.8ZM2059.3 870.4 L2046.3 875.8 L2035.3 867.2 L2037.1 853.2 L2050.1 847.8 L2061.1 856.4ZM2068.5 892.9 L2055.5 898.3 L2044.5 889.8 L2046.3 875.8 L2059.3 870.4 L2070.3 878.9ZM2077.6 915.5 L2064.7 920.9 L2053.7 912.3 L2055.5 898.3 L2068.5 892.9 L2079.5 901.5ZM2086.8 938.1 L2073.9 943.5 L2062.9 934.9 L2064.7 920.9 L2077.6 915.5 L2088.7 924.1ZM2096.0 960.6 L2083.1 966.0 L2072.1 957.5 L2073.9 943.5 L2086.8 938.1 L2097.9 946.6ZM2123.6 1028.3 L2110.7 1033.8 L2099.7 1025.2 L2101.5 1011.2 L2114.4 1005.8 L2125.5 1014.3ZM2000.5 670.4 L1987.5 675.8 L1976.5 667.2 L1978.3 653.2 L1991.3 647.8 L2002.3 656.4ZM2009.7 693.0 L1996.7 698.4 L1985.7 689.8 L1987.5 675.8 L2000.5 670.4 L2011.5 679.0ZM2018.9 715.5 L2005.9 721.0 L1994.9 712.4 L1996.7 698.4 L2009.7 693.0 L2020.7 701.5ZM2028.1 738.1 L2015.1 743.5 L2004.1 734.9 L2005.9 721.0 L2018.9 715.5 L2029.9 724.1ZM2037.3 760.7 L2024.3 766.1 L2013.3 757.5 L2015.1 743.5 L2028.1 738.1 L2039.1 746.7ZM2046.4 783.2 L2033.5 788.7 L2022.5 780.1 L2024.3 766.1 L2037.3 760.7 L2048.3 769.2ZM2055.6 805.8 L2042.7 811.2 L2031.7 802.7 L2033.5 788.7 L2046.4 783.2 L2057.5 791.8ZM2064.8 828.4 L2051.9 833.8 L2040.9 825.2 L2042.7 811.2 L2055.6 805.8 L2066.7 814.4ZM2074.0 850.9 L2061.1 856.4 L2050.1 847.8 L2051.9 833.8 L2064.8 828.4 L2075.9 836.9ZM2083.2 873.5 L2070.3 878.9 L2059.3 870.4 L2061.1 856.4 L2074.0 850.9 L2085.1 859.5ZM2092.4 896.1 L2079.5 901.5 L2068.5 892.9 L2070.3 878.9 L2083.2 873.5 L2094.3 882.1ZM2101.6 918.6 L2088.7 924.1 L2077.6 915.5 L2079.5 901.5 L2092.4 896.1 L2103.5 904.6ZM2110.8 941.2 L2097.9 946.6 L2086.8 938.1 L2088.7 924.1 L2101.6 918.6 L2112.7 927.2ZM2120.0 963.8 L2107.1 969.2 L2096.0 960.6 L2097.9 946.6 L2110.8 941.2 L2121.9 949.8ZM2138.4 1008.9 L2125.5 1014.3 L2114.4 1005.8 L2116.3 991.8 L2129.2 986.3 L2140.3 994.9ZM1987.7 583.3 L1974.7 588.7 L1963.7 580.1 L1965.5 566.1 L1978.5 560.7 L1989.5 569.3ZM1996.9 605.8 L1983.9 611.3 L1972.9 602.7 L1974.7 588.7 L1987.7 583.3 L1998.7 591.8ZM2015.2 651.0 L2002.3 656.4 L1991.3 647.8 L1993.1 633.8 L2006.0 628.4 L2017.1 637.0ZM2024.4 673.5 L2011.5 679.0 L2000.5 670.4 L2002.3 656.4 L2015.2 651.0 L2026.3 659.6ZM2033.6 696.1 L2020.7 701.5 L2009.7 693.0 L2011.5 679.0 L2024.4 673.5 L2035.5 682.1ZM2042.8 718.7 L2029.9 724.1 L2018.9 715.5 L2020.7 701.5 L2033.6 696.1 L2044.7 704.7ZM2052.0 741.3 L2039.1 746.7 L2028.1 738.1 L2029.9 724.1 L2042.8 718.7 L2053.9 727.3ZM2061.2 763.8 L2048.3 769.2 L2037.3 760.7 L2039.1 746.7 L2052.0 741.3 L2063.1 749.8ZM2070.4 786.4 L2057.5 791.8 L2046.4 783.2 L2048.3 769.2 L2061.2 763.8 L2072.3 772.4ZM2079.6 809.0 L2066.7 814.4 L2055.6 805.8 L2057.5 791.8 L2070.4 786.4 L2081.5 795.0ZM2088.8 831.5 L2075.9 836.9 L2064.8 828.4 L2066.7 814.4 L2079.6 809.0 L2090.7 817.5ZM2098.0 854.1 L2085.1 859.5 L2074.0 850.9 L2075.9 836.9 L2088.8 831.5 L2099.9 840.1ZM2107.2 876.7 L2094.3 882.1 L2083.2 873.5 L2085.1 859.5 L2098.0 854.1 L2109.1 862.7ZM2116.4 899.2 L2103.5 904.6 L2092.4 896.1 L2094.3 882.1 L2107.2 876.7 L2118.3 885.2ZM2125.6 921.8 L2112.7 927.2 L2101.6 918.6 L2103.5 904.6 L2116.4 899.2 L2127.5 907.8ZM2134.8 944.4 L2121.9 949.8 L2110.8 941.2 L2112.7 927.2 L2125.6 921.8 L2136.7 930.4ZM1974.8 496.2 L1961.9 501.6 L1950.9 493.0 L1952.7 479.0 L1965.7 473.6 L1976.7 482.2ZM2011.6 586.4 L1998.7 591.8 L1987.7 583.3 L1989.5 569.3 L2002.4 563.9 L2013.5 572.4ZM2020.8 609.0 L2007.9 614.4 L1996.9 605.8 L1998.7 591.8 L2011.6 586.4 L2022.7 595.0ZM2030.0 631.6 L2017.1 637.0 L2006.0 628.4 L2007.9 614.4 L2020.8 609.0 L2031.9 617.6ZM2039.2 654.1 L2026.3 659.6 L2015.2 651.0 L2017.1 637.0 L2030.0 631.6 L2041.1 640.1ZM2048.4 676.7 L2035.5 682.1 L2024.4 673.5 L2026.3 659.6 L2039.2 654.1 L2050.3 662.7ZM2057.6 699.3 L2044.7 704.7 L2033.6 696.1 L2035.5 682.1 L2048.4 676.7 L2059.5 685.3ZM2066.8 721.8 L2053.9 727.3 L2042.8 718.7 L2044.7 704.7 L2057.6 699.3 L2068.7 707.8ZM2076.0 744.4 L2063.1 749.8 L2052.0 741.3 L2053.9 727.3 L2066.8 721.8 L2077.9 730.4ZM2085.2 767.0 L2072.3 772.4 L2061.2 763.8 L2063.1 749.8 L2076.0 744.4 L2087.1 753.0ZM2094.4 789.5 L2081.5 795.0 L2070.4 786.4 L2072.3 772.4 L2085.2 767.0 L2096.3 775.5ZM2103.6 812.1 L2090.7 817.5 L2079.6 809.0 L2081.5 795.0 L2094.4 789.5 L2105.5 798.1ZM2112.8 834.7 L2099.9 840.1 L2088.8 831.5 L2090.7 817.5 L2103.6 812.1 L2114.7 820.7ZM2122.0 857.2 L2109.1 862.7 L2098.0 854.1 L2099.9 840.1 L2112.8 834.7 L2123.9 843.2ZM2131.2 879.8 L2118.3 885.2 L2107.2 876.7 L2109.1 862.7 L2122.0 857.2 L2133.1 865.8ZM2140.4 902.4 L2127.5 907.8 L2116.4 899.2 L2118.3 885.2 L2131.2 879.8 L2142.3 888.4ZM1989.6 476.7 L1976.7 482.2 L1965.7 473.6 L1967.5 459.6 L1980.4 454.2 L1991.5 462.7ZM1998.8 499.3 L1985.9 504.7 L1974.8 496.2 L1976.7 482.2 L1989.6 476.7 L2000.7 485.3ZM2008.0 521.9 L1995.1 527.3 L1984.0 518.7 L1985.9 504.7 L1998.8 499.3 L2009.9 507.9ZM2017.2 544.4 L2004.3 549.9 L1993.2 541.3 L1995.1 527.3 L2008.0 521.9 L2019.1 530.4ZM2026.4 567.0 L2013.5 572.4 L2002.4 563.9 L2004.3 549.9 L2017.2 544.4 L2028.3 553.0ZM2035.6 589.6 L2022.7 595.0 L2011.6 586.4 L2013.5 572.4 L2026.4 567.0 L2037.5 575.6ZM2044.8 612.1 L2031.9 617.6 L2020.8 609.0 L2022.7 595.0 L2035.6 589.6 L2046.7 598.2ZM2054.0 634.7 L2041.1 640.1 L2030.0 631.6 L2031.9 617.6 L2044.8 612.1 L2055.9 620.7ZM2063.2 657.3 L2050.3 662.7 L2039.2 654.1 L2041.1 640.1 L2054.0 634.7 L2065.1 643.3ZM2072.4 679.9 L2059.5 685.3 L2048.4 676.7 L2050.3 662.7 L2063.2 657.3 L2074.3 665.9ZM2081.6 702.4 L2068.7 707.8 L2057.6 699.3 L2059.5 685.3 L2072.4 679.9 L2083.5 688.4ZM2090.8 725.0 L2077.9 730.4 L2066.8 721.8 L2068.7 707.8 L2081.6 702.4 L2092.7 711.0ZM2100.0 747.6 L2087.1 753.0 L2076.0 744.4 L2077.9 730.4 L2090.8 725.0 L2101.9 733.6ZM2109.2 770.1 L2096.3 775.5 L2085.2 767.0 L2087.1 753.0 L2100.0 747.6 L2111.1 756.1ZM2118.4 792.7 L2105.5 798.1 L2094.4 789.5 L2096.3 775.5 L2109.2 770.1 L2120.3 778.7ZM2127.6 815.3 L2114.7 820.7 L2103.6 812.1 L2105.5 798.1 L2118.4 792.7 L2129.5 801.3ZM2136.8 837.8 L2123.9 843.2 L2112.8 834.7 L2114.7 820.7 L2127.6 815.3 L2138.7 823.8ZM2146.0 860.4 L2133.1 865.8 L2122.0 857.2 L2123.9 843.2 L2136.8 837.8 L2147.9 846.4ZM2155.2 883.0 L2142.3 888.4 L2131.2 879.8 L2133.1 865.8 L2146.0 860.4 L2157.1 869.0ZM2164.4 905.5 L2151.5 911.0 L2140.4 902.4 L2142.3 888.4 L2155.2 883.0 L2166.3 891.5ZM2013.6 479.9 L2000.7 485.3 L1989.6 476.7 L1991.5 462.7 L2004.4 457.3 L2015.5 465.9ZM2050.4 570.2 L2037.5 575.6 L2026.4 567.0 L2028.3 553.0 L2041.2 547.6 L2052.3 556.2ZM2059.6 592.7 L2046.7 598.2 L2035.6 589.6 L2037.5 575.6 L2050.4 570.2 L2061.5 578.7ZM2068.8 615.3 L2055.9 620.7 L2044.8 612.1 L2046.7 598.2 L2059.6 592.7 L2070.7 601.3ZM2078.0 637.9 L2065.1 643.3 L2054.0 634.7 L2055.9 620.7 L2068.8 615.3 L2079.9 623.9ZM2087.2 660.4 L2074.3 665.9 L2063.2 657.3 L2065.1 643.3 L2078.0 637.9 L2089.1 646.4ZM2124.0 750.7 L2111.1 756.1 L2100.0 747.6 L2101.9 733.6 L2114.8 728.1 L2125.9 736.7ZM2133.2 773.3 L2120.3 778.7 L2109.2 770.1 L2111.1 756.1 L2124.0 750.7 L2135.1 759.3ZM2142.4 795.8 L2129.5 801.3 L2118.4 792.7 L2120.3 778.7 L2133.2 773.3 L2144.3 781.8ZM2151.6 818.4 L2138.7 823.8 L2127.6 815.3 L2129.5 801.3 L2142.4 795.8 L2153.5 804.4ZM2160.8 841.0 L2147.9 846.4 L2136.8 837.8 L2138.7 823.8 L2151.6 818.4 L2162.7 827.0ZM2170.0 863.5 L2157.1 869.0 L2146.0 860.4 L2147.9 846.4 L2160.8 841.0 L2171.9 849.6ZM2179.2 886.1 L2166.3 891.5 L2155.2 883.0 L2157.1 869.0 L2170.0 863.5 L2181.1 872.1ZM2188.4 908.7 L2175.5 914.1 L2164.4 905.5 L2166.3 891.5 L2179.2 886.1 L2190.3 894.7ZM2074.4 573.3 L2061.5 578.7 L2050.4 570.2 L2052.3 556.2 L2065.2 550.7 L2076.3 559.3ZM2083.6 595.9 L2070.7 601.3 L2059.6 592.7 L2061.5 578.7 L2074.4 573.3 L2085.5 581.9ZM2092.8 618.5 L2079.9 623.9 L2068.8 615.3 L2070.7 601.3 L2083.6 595.9 L2094.7 604.5ZM2102.0 641.0 L2089.1 646.4 L2078.0 637.9 L2079.9 623.9 L2092.8 618.5 L2103.9 627.0ZM2157.2 776.4 L2144.3 781.8 L2133.2 773.3 L2135.1 759.3 L2148.0 753.9 L2159.0 762.4ZM2166.4 799.0 L2153.5 804.4 L2142.4 795.8 L2144.3 781.8 L2157.2 776.4 L2168.2 785.0ZM2175.6 821.6 L2162.7 827.0 L2151.6 818.4 L2153.5 804.4 L2166.4 799.0 L2177.4 807.6ZM2184.8 844.1 L2171.9 849.6 L2160.8 841.0 L2162.7 827.0 L2175.6 821.6 L2186.6 830.1ZM2194.0 866.7 L2181.1 872.1 L2170.0 863.5 L2171.9 849.6 L2184.8 844.1 L2195.8 852.7ZM2203.2 889.3 L2190.3 894.7 L2179.2 886.1 L2181.1 872.1 L2194.0 866.7 L2205.0 875.3ZM2089.2 553.9 L2076.3 559.3 L2065.2 550.7 L2067.1 536.8 L2080.0 531.3 L2091.1 539.9ZM2098.4 576.5 L2085.5 581.9 L2074.4 573.3 L2076.3 559.3 L2089.2 553.9 L2100.3 562.5ZM2107.6 599.0 L2094.7 604.5 L2083.6 595.9 L2085.5 581.9 L2098.4 576.5 L2109.5 585.0ZM2116.8 621.6 L2103.9 627.0 L2092.8 618.5 L2094.7 604.5 L2107.6 599.0 L2118.7 607.6ZM2181.2 779.6 L2168.2 785.0 L2157.2 776.4 L2159.0 762.4 L2172.0 757.0 L2183.0 765.6ZM2190.4 802.1 L2177.4 807.6 L2166.4 799.0 L2168.2 785.0 L2181.2 779.6 L2192.2 788.2ZM2199.6 824.7 L2186.6 830.1 L2175.6 821.6 L2177.4 807.6 L2190.4 802.1 L2201.4 810.7ZM2208.8 847.3 L2195.8 852.7 L2184.8 844.1 L2186.6 830.1 L2199.6 824.7 L2210.6 833.3ZM2218.0 869.9 L2205.0 875.3 L2194.0 866.7 L2195.8 852.7 L2208.8 847.3 L2219.8 855.9ZM2227.2 892.4 L2214.2 897.8 L2203.2 889.3 L2205.0 875.3 L2218.0 869.9 L2229.0 878.4ZM2104.0 534.5 L2091.1 539.9 L2080.0 531.3 L2081.9 517.3 L2094.8 511.9 L2105.8 520.5ZM2113.2 557.1 L2100.3 562.5 L2089.2 553.9 L2091.1 539.9 L2104.0 534.5 L2115.0 543.1ZM2122.4 579.6 L2109.5 585.0 L2098.4 576.5 L2100.3 562.5 L2113.2 557.1 L2124.2 565.6ZM2131.6 602.2 L2118.7 607.6 L2107.6 599.0 L2109.5 585.0 L2122.4 579.6 L2133.4 588.2ZM2140.8 624.8 L2127.8 630.2 L2116.8 621.6 L2118.7 607.6 L2131.6 602.2 L2142.6 610.8ZM2196.0 760.2 L2183.0 765.6 L2172.0 757.0 L2173.8 743.0 L2186.8 737.6 L2197.8 746.2ZM2205.2 782.7 L2192.2 788.2 L2181.2 779.6 L2183.0 765.6 L2196.0 760.2 L2207.0 768.7ZM2214.4 805.3 L2201.4 810.7 L2190.4 802.1 L2192.2 788.2 L2205.2 782.7 L2216.2 791.3ZM2223.6 827.9 L2210.6 833.3 L2199.6 824.7 L2201.4 810.7 L2214.4 805.3 L2225.4 813.9ZM2232.8 850.4 L2219.8 855.9 L2208.8 847.3 L2210.6 833.3 L2223.6 827.9 L2234.6 836.4ZM2242.0 873.0 L2229.0 878.4 L2218.0 869.9 L2219.8 855.9 L2232.8 850.4 L2243.8 859.0ZM2109.6 492.5 L2096.6 497.9 L2085.6 489.3 L2087.4 475.4 L2100.4 469.9 L2111.4 478.5ZM2118.8 515.1 L2105.8 520.5 L2094.8 511.9 L2096.6 497.9 L2109.6 492.5 L2120.6 501.1ZM2128.0 537.6 L2115.0 543.1 L2104.0 534.5 L2105.8 520.5 L2118.8 515.1 L2129.8 523.6ZM2137.2 560.2 L2124.2 565.6 L2113.2 557.1 L2115.0 543.1 L2128.0 537.6 L2139.0 546.2ZM2146.4 582.8 L2133.4 588.2 L2122.4 579.6 L2124.2 565.6 L2137.2 560.2 L2148.2 568.8ZM2155.6 605.3 L2142.6 610.8 L2131.6 602.2 L2133.4 588.2 L2146.4 582.8 L2157.4 591.3ZM2164.8 627.9 L2151.8 633.3 L2140.8 624.8 L2142.6 610.8 L2155.6 605.3 L2166.6 613.9ZM2174.0 650.5 L2161.0 655.9 L2150.0 647.3 L2151.8 633.3 L2164.8 627.9 L2175.8 636.5ZM2210.8 740.7 L2197.8 746.2 L2186.8 737.6 L2188.6 723.6 L2201.6 718.2 L2212.6 726.8ZM2219.9 763.3 L2207.0 768.7 L2196.0 760.2 L2197.8 746.2 L2210.8 740.7 L2221.8 749.3ZM2229.1 785.9 L2216.2 791.3 L2205.2 782.7 L2207.0 768.7 L2219.9 763.3 L2231.0 771.9ZM2238.3 808.5 L2225.4 813.9 L2214.4 805.3 L2216.2 791.3 L2229.1 785.9 L2240.2 794.5ZM2247.5 831.0 L2234.6 836.4 L2223.6 827.9 L2225.4 813.9 L2238.3 808.5 L2249.4 817.0ZM2256.7 853.6 L2243.8 859.0 L2232.8 850.4 L2234.6 836.4 L2247.5 831.0 L2258.6 839.6ZM2265.9 876.2 L2253.0 881.6 L2242.0 873.0 L2243.8 859.0 L2256.7 853.6 L2267.8 862.2ZM2152.0 540.8 L2139.0 546.2 L2128.0 537.6 L2129.8 523.6 L2142.8 518.2 L2153.8 526.8ZM2161.2 563.4 L2148.2 568.8 L2137.2 560.2 L2139.0 546.2 L2152.0 540.8 L2163.0 549.4ZM2170.4 585.9 L2157.4 591.3 L2146.4 582.8 L2148.2 568.8 L2161.2 563.4 L2172.2 571.9ZM2179.5 608.5 L2166.6 613.9 L2155.6 605.3 L2157.4 591.3 L2170.4 585.9 L2181.4 594.5ZM2188.7 631.1 L2175.8 636.5 L2164.8 627.9 L2166.6 613.9 L2179.5 608.5 L2190.6 617.1ZM2197.9 653.6 L2185.0 659.0 L2174.0 650.5 L2175.8 636.5 L2188.7 631.1 L2199.8 639.6ZM2225.5 721.3 L2212.6 726.8 L2201.6 718.2 L2203.4 704.2 L2216.3 698.8 L2227.4 707.3ZM2234.7 743.9 L2221.8 749.3 L2210.8 740.7 L2212.6 726.8 L2225.5 721.3 L2236.6 729.9ZM2243.9 766.5 L2231.0 771.9 L2219.9 763.3 L2221.8 749.3 L2234.7 743.9 L2245.8 752.5ZM2253.1 789.0 L2240.2 794.5 L2229.1 785.9 L2231.0 771.9 L2243.9 766.5 L2255.0 775.0ZM2262.3 811.6 L2249.4 817.0 L2238.3 808.5 L2240.2 794.5 L2253.1 789.0 L2264.2 797.6ZM2271.5 834.2 L2258.6 839.6 L2247.5 831.0 L2249.4 817.0 L2262.3 811.6 L2273.4 820.2ZM2280.7 856.7 L2267.8 862.2 L2256.7 853.6 L2258.6 839.6 L2271.5 834.2 L2282.6 842.7ZM2175.9 543.9 L2163.0 549.4 L2152.0 540.8 L2153.8 526.8 L2166.7 521.4 L2177.8 529.9ZM2185.1 566.5 L2172.2 571.9 L2161.2 563.4 L2163.0 549.4 L2175.9 543.9 L2187.0 552.5ZM2194.3 589.1 L2181.4 594.5 L2170.4 585.9 L2172.2 571.9 L2185.1 566.5 L2196.2 575.1ZM2203.5 611.6 L2190.6 617.1 L2179.5 608.5 L2181.4 594.5 L2194.3 589.1 L2205.4 597.6ZM2212.7 634.2 L2199.8 639.6 L2188.7 631.1 L2190.6 617.1 L2203.5 611.6 L2214.6 620.2ZM2221.9 656.8 L2209.0 662.2 L2197.9 653.6 L2199.8 639.6 L2212.7 634.2 L2223.8 642.8ZM2231.1 679.3 L2218.2 684.8 L2207.1 676.2 L2209.0 662.2 L2221.9 656.8 L2233.0 665.4ZM2240.3 701.9 L2227.4 707.3 L2216.3 698.8 L2218.2 684.8 L2231.1 679.3 L2242.2 687.9ZM2249.5 724.5 L2236.6 729.9 L2225.5 721.3 L2227.4 707.3 L2240.3 701.9 L2251.4 710.5ZM2258.7 747.1 L2245.8 752.5 L2234.7 743.9 L2236.6 729.9 L2249.5 724.5 L2260.6 733.1ZM2267.9 769.6 L2255.0 775.0 L2243.9 766.5 L2245.8 752.5 L2258.7 747.1 L2269.8 755.6ZM2277.1 792.2 L2264.2 797.6 L2253.1 789.0 L2255.0 775.0 L2267.9 769.6 L2279.0 778.2ZM2286.3 814.8 L2273.4 820.2 L2262.3 811.6 L2264.2 797.6 L2277.1 792.2 L2288.2 800.8ZM2199.9 547.1 L2187.0 552.5 L2175.9 543.9 L2177.8 529.9 L2190.7 524.5 L2201.8 533.1ZM2209.1 569.7 L2196.2 575.1 L2185.1 566.5 L2187.0 552.5 L2199.9 547.1 L2211.0 555.7ZM2218.3 592.2 L2205.4 597.6 L2194.3 589.1 L2196.2 575.1 L2209.1 569.7 L2220.2 578.2ZM2227.5 614.8 L2214.6 620.2 L2203.5 611.6 L2205.4 597.6 L2218.3 592.2 L2229.4 600.8ZM2236.7 637.4 L2223.8 642.8 L2212.7 634.2 L2214.6 620.2 L2227.5 614.8 L2238.6 623.4ZM2245.9 659.9 L2233.0 665.4 L2221.9 656.8 L2223.8 642.8 L2236.7 637.4 L2247.8 645.9ZM2255.1 682.5 L2242.2 687.9 L2231.1 679.3 L2233.0 665.4 L2245.9 659.9 L2257.0 668.5ZM2264.3 705.1 L2251.4 710.5 L2240.3 701.9 L2242.2 687.9 L2255.1 682.5 L2266.2 691.1ZM2273.5 727.6 L2260.6 733.1 L2249.5 724.5 L2251.4 710.5 L2264.3 705.1 L2275.4 713.6ZM2282.7 750.2 L2269.8 755.6 L2258.7 747.1 L2260.6 733.1 L2273.5 727.6 L2284.6 736.2ZM2291.9 772.8 L2279.0 778.2 L2267.9 769.6 L2269.8 755.6 L2282.7 750.2 L2293.8 758.8ZM2301.1 795.3 L2288.2 800.8 L2277.1 792.2 L2279.0 778.2 L2291.9 772.8 L2303.0 781.3ZM2233.1 572.8 L2220.2 578.2 L2209.1 569.7 L2211.0 555.7 L2223.9 550.2 L2235.0 558.8ZM2242.3 595.4 L2229.4 600.8 L2218.3 592.2 L2220.2 578.2 L2233.1 572.8 L2244.2 581.4ZM2251.5 617.9 L2238.6 623.4 L2227.5 614.8 L2229.4 600.8 L2242.3 595.4 L2253.4 604.0ZM2260.7 640.5 L2247.8 645.9 L2236.7 637.4 L2238.6 623.4 L2251.5 617.9 L2262.6 626.5ZM2269.9 663.1 L2257.0 668.5 L2245.9 659.9 L2247.8 645.9 L2260.7 640.5 L2271.8 649.1ZM2279.1 685.7 L2266.2 691.1 L2255.1 682.5 L2257.0 668.5 L2269.9 663.1 L2281.0 671.7ZM2288.3 708.2 L2275.4 713.6 L2264.3 705.1 L2266.2 691.1 L2279.1 685.7 L2290.2 694.2ZM2297.5 730.8 L2284.6 736.2 L2273.5 727.6 L2275.4 713.6 L2288.3 708.2 L2299.4 716.8ZM2306.7 753.4 L2293.8 758.8 L2282.7 750.2 L2284.6 736.2 L2297.5 730.8 L2308.6 739.4ZM2315.9 775.9 L2303.0 781.3 L2291.9 772.8 L2293.8 758.8 L2306.7 753.4 L2317.8 761.9ZM2266.3 598.5 L2253.4 604.0 L2242.3 595.4 L2244.2 581.4 L2257.1 576.0 L2268.2 584.5ZM2275.5 621.1 L2262.6 626.5 L2251.5 617.9 L2253.4 604.0 L2266.3 598.5 L2277.4 607.1ZM2284.7 643.7 L2271.8 649.1 L2260.7 640.5 L2262.6 626.5 L2275.5 621.1 L2286.6 629.7ZM2293.9 666.2 L2281.0 671.7 L2269.9 663.1 L2271.8 649.1 L2284.7 643.7 L2295.8 652.2ZM2303.1 688.8 L2290.2 694.2 L2279.1 685.7 L2281.0 671.7 L2293.9 666.2 L2305.0 674.8ZM2321.5 733.9 L2308.6 739.4 L2297.5 730.8 L2299.4 716.8 L2312.3 711.4 L2323.4 719.9ZM2330.7 756.5 L2317.8 761.9 L2306.7 753.4 L2308.6 739.4 L2321.5 733.9 L2332.5 742.5ZM2299.5 624.3 L2286.6 629.7 L2275.5 621.1 L2277.4 607.1 L2290.3 601.7 L2301.3 610.3ZM2336.3 714.5 L2323.4 719.9 L2312.3 711.4 L2314.2 697.4 L2327.1 692.0 L2338.1 700.5ZM2354.7 759.7 L2341.7 765.1 L2330.7 756.5 L2332.5 742.5 L2345.5 737.1 L2356.5 745.7ZM2363.9 782.2 L2350.9 787.6 L2339.9 779.1 L2341.7 765.1 L2354.7 759.7 L2365.7 768.2ZM2369.5 740.2 L2356.5 745.7 L2345.5 737.1 L2347.3 723.1 L2360.3 717.7 L2371.3 726.2ZM2378.7 762.8 L2365.7 768.2 L2354.7 759.7 L2356.5 745.7 L2369.5 740.2 L2380.5 748.8ZM2387.9 785.4 L2374.9 790.8 L2363.9 782.2 L2365.7 768.2 L2378.7 762.8 L2389.7 771.4Z" fill="#0442a6" fill-opacity="0.79" stroke="#dfe8f5" stroke-opacity="0.3" stroke-width="1"/>
<path d="M2168.4 692.5 L2155.4 697.9 L2144.4 689.3 L2146.2 675.3 L2159.2 669.9 L2170.2 678.5Z" fill="#c8464f" stroke="#dfe8f5" stroke-opacity="0.3" stroke-width="1"/>
<path d="M2144.4 689.3 L2131.5 694.7 L2120.4 686.2 L2122.3 672.2 L2135.2 666.7 L2146.2 675.3Z" fill="#dcbdbe" stroke="#dfe8f5" stroke-opacity="0.3" stroke-width="1"/>
<path d="M2153.6 711.9 L2140.7 717.3 L2129.6 708.7 L2131.5 694.7 L2144.4 689.3 L2155.4 697.9Z" fill="#e5e2de" stroke="#dfe8f5" stroke-opacity="0.3" stroke-width="1"/>
<path d="M2177.6 715.0 L2164.6 720.4 L2153.6 711.9 L2155.4 697.9 L2168.4 692.5 L2179.4 701.0Z" fill="#7f9dd0" stroke="#dfe8f5" stroke-opacity="0.3" stroke-width="1"/>
<path d="M2135.2 666.7 L2122.3 672.2 L2111.2 663.6 L2113.1 649.6 L2126.0 644.2 L2137.0 652.7Z" fill="#5a82c5" stroke="#dfe8f5" stroke-opacity="0.3" stroke-width="1"/>
<path d="M2159.2 669.9 L2146.2 675.3 L2135.2 666.7 L2137.0 652.7 L2150.0 647.3 L2161.0 655.9Z" fill="#5a82c5" stroke="#dfe8f5" stroke-opacity="0.3" stroke-width="1"/>
<path d="M2120.4 686.2 L2107.5 691.6 L2096.4 683.0 L2098.3 669.0 L2111.2 663.6 L2122.3 672.2Z" fill="#5a82c5" stroke="#dfe8f5" stroke-opacity="0.3" stroke-width="1"/>
<path d="M2192.4 695.6 L2179.4 701.0 L2168.4 692.5 L2170.2 678.5 L2183.2 673.0 L2194.2 681.6Z" fill="#5a82c5" stroke="#dfe8f5" stroke-opacity="0.3" stroke-width="1"/>
<path d="M2129.6 708.7 L2116.7 714.1 L2105.6 705.6 L2107.5 691.6 L2120.4 686.2 L2131.5 694.7Z" fill="#5a82c5" stroke="#dfe8f5" stroke-opacity="0.3" stroke-width="1"/>
<path d="M2162.8 734.4 L2149.9 739.9 L2138.8 731.3 L2140.7 717.3 L2153.6 711.9 L2164.6 720.4Z" fill="#5a82c5" stroke="#dfe8f5" stroke-opacity="0.3" stroke-width="1"/>
<path d="M2138.8 731.3 L2125.9 736.7 L2114.8 728.1 L2116.7 714.1 L2129.6 708.7 L2140.7 717.3Z" fill="#5a82c5" stroke="#dfe8f5" stroke-opacity="0.3" stroke-width="1"/>
<path d="M2183.2 673.0 L2170.2 678.5 L2159.2 669.9 L2161.0 655.9 L2174.0 650.5 L2185.0 659.0Z" fill="#5a82c5" stroke="#dfe8f5" stroke-opacity="0.3" stroke-width="1"/>
<path d="M2111.2 663.6 L2098.3 669.0 L2087.2 660.4 L2089.1 646.4 L2102.0 641.0 L2113.1 649.6Z" fill="#4270bb" stroke="#dfe8f5" stroke-opacity="0.3" stroke-width="1"/>
<path d="M2201.6 718.2 L2188.6 723.6 L2177.6 715.0 L2179.4 701.0 L2192.4 695.6 L2203.4 704.2Z" fill="#4270bb" stroke="#dfe8f5" stroke-opacity="0.3" stroke-width="1"/>
<path d="M2096.4 683.0 L2083.5 688.4 L2072.4 679.9 L2074.3 665.9 L2087.2 660.4 L2098.3 669.0Z" fill="#4270bb" stroke="#dfe8f5" stroke-opacity="0.3" stroke-width="1"/>
<path d="M2105.6 705.6 L2092.7 711.0 L2081.6 702.4 L2083.5 688.4 L2096.4 683.0 L2107.5 691.6Z" fill="#4270bb" stroke="#dfe8f5" stroke-opacity="0.3" stroke-width="1"/>
<path d="M2186.8 737.6 L2173.8 743.0 L2162.8 734.4 L2164.6 720.4 L2177.6 715.0 L2188.6 723.6Z" fill="#4270bb" stroke="#dfe8f5" stroke-opacity="0.3" stroke-width="1"/>
<path d="M2114.8 728.1 L2101.9 733.6 L2090.8 725.0 L2092.7 711.0 L2105.6 705.6 L2116.7 714.1Z" fill="#4270bb" stroke="#dfe8f5" stroke-opacity="0.3" stroke-width="1"/>
<path d="M2150.0 647.3 L2137.0 652.7 L2126.0 644.2 L2127.8 630.2 L2140.8 624.8 L2151.8 633.3Z" fill="#4270bb" stroke="#dfe8f5" stroke-opacity="0.3" stroke-width="1"/>
<path d="M2126.0 644.2 L2113.1 649.6 L2102.0 641.0 L2103.9 627.0 L2116.8 621.6 L2127.8 630.2Z" fill="#4270bb" stroke="#dfe8f5" stroke-opacity="0.3" stroke-width="1"/>
<path d="M2207.1 676.2 L2194.2 681.6 L2183.2 673.0 L2185.0 659.0 L2197.9 653.6 L2209.0 662.2Z" fill="#4270bb" stroke="#dfe8f5" stroke-opacity="0.3" stroke-width="1"/>
<path d="M2216.3 698.8 L2203.4 704.2 L2192.4 695.6 L2194.2 681.6 L2207.1 676.2 L2218.2 684.8Z" fill="#4270bb" stroke="#dfe8f5" stroke-opacity="0.3" stroke-width="1"/>
<path d="M2148.0 753.9 L2135.1 759.3 L2124.0 750.7 L2125.9 736.7 L2138.8 731.3 L2149.9 739.9Z" fill="#4270bb" stroke="#dfe8f5" stroke-opacity="0.3" stroke-width="1"/>
<path d="M2172.0 757.0 L2159.0 762.4 L2148.0 753.9 L2149.9 739.9 L2162.8 734.4 L2173.8 743.0Z" fill="#4270bb" stroke="#dfe8f5" stroke-opacity="0.3" stroke-width="1"/>
<g opacity="1"><rect x="2002" y="410" width="22" height="22" rx="4" fill="#3a78e6"/><path d="M2006 422L2020 416L2021 418L2014 422L2018 428L2016 428L2011 423L2007 424Z" fill="#fff"/></g>
<g opacity="1"><rect x="2067" y="965" width="22" height="22" rx="4" fill="#3a78e6"/><path d="M2071 977L2085 971L2086 973L2079 977L2083 983L2081 983L2076 978L2072 979Z" fill="#fff"/></g>
<g opacity="1"><rect x="2322" y="1068" width="22" height="22" rx="4" fill="#3a78e6"/><path d="M2326 1080L2340 1074L2341 1076L2334 1080L2338 1086L2336 1086L2331 1081L2327 1082Z" fill="#fff"/></g>
<g opacity="1"><rect x="2462" y="899" width="22" height="22" rx="4" fill="#3a78e6"/><path d="M2466 911L2480 905L2481 907L2474 911L2478 917L2476 917L2471 912L2467 913Z" fill="#fff"/></g>
<g opacity="1"><rect x="1950" y="434" width="20" height="22" rx="3" fill="#ff7233"/><text x="1960" y="452" font-size="17" font-weight="700" fill="#fff" text-anchor="middle">₽</text></g>
<g opacity="1"><rect x="2047" y="532" width="20" height="22" rx="3" fill="#ff7233"/><text x="2057" y="550" font-size="17" font-weight="700" fill="#fff" text-anchor="middle">₽</text></g>
<g opacity="1"><rect x="2021" y="1146" width="20" height="22" rx="3" fill="#ff7233"/><text x="2031" y="1164" font-size="17" font-weight="700" fill="#fff" text-anchor="middle">₽</text></g>
<g opacity="1"><rect x="2262" y="1162" width="20" height="22" rx="3" fill="#ff7233"/><text x="2272" y="1180" font-size="17" font-weight="700" fill="#fff" text-anchor="middle">₽</text></g>
<text x="2092" y="682" font-size="29" font-weight="700" fill="#1a3566" fill-opacity="0.6">Москва</text>
<rect x="2142" y="377" width="324" height="139" rx="8" fill="#ffffff"/>
<defs><linearGradient id="lgd" x1="0" x2="1"><stop offset="0" stop-color="#0a3c9c"/><stop offset="0.25" stop-color="#5b7ec0"/><stop offset="0.5" stop-color="#d9d9d9"/><stop offset="0.75" stop-color="#cc7d88"/><stop offset="1" stop-color="#b51f2e"/></linearGradient></defs>
<rect x="2156" y="444" width="296" height="14" rx="4" fill="url(#lgd)"/>
<text x="2157" y="423" font-size="24" fill="#6f6f6f">Спрос</text>
<text x="2156" y="495" font-size="24" fill="#222">58</text>
<text x="2277" y="495" font-size="24" fill="#222" text-anchor="middle">13,83M</text>
<text x="2451" y="495" font-size="24" fill="#222" text-anchor="end">27,66M</text>
<rect x="1554" y="576" width="4" height="272" fill="#bdbdbd"/><rect x="1564" y="576" width="4" height="272" fill="#bdbdbd"/>
<rect x="1535" y="526" width="51" height="51" rx="5" fill="#fff" style="filter:drop-shadow(0 1px 2px rgba(0,0,0,.25))"/>
<rect x="1547.5" y="547.5" width="26" height="6" fill="#5a5a5a"/><rect x="1557.5" y="537.5" width="6" height="26" fill="#5a5a5a"/>
<rect x="1535" y="715" width="51" height="27" rx="5" fill="#fff" style="filter:drop-shadow(0 1px 2px rgba(0,0,0,.25))"/>
<text x="1560.5" y="733" font-size="12" fill="#666" text-anchor="middle" letter-spacing="1">::::</text>
<rect x="1535" y="846" width="51" height="50" rx="5" fill="#fff" style="filter:drop-shadow(0 1px 2px rgba(0,0,0,.25))"/>
<rect x="1547.5" y="866.5" width="26" height="6" fill="#5a5a5a"/>
</g></svg>
<svg style="left:0;top:0" width="100" height="100">
<defs><linearGradient id="lg" x1="22" x2="60" y1="0" y2="0" gradientUnits="userSpaceOnUse"><stop offset="0" stop-color="#dbe5fd"/><stop offset="1" stop-color="#ffffff"/></linearGradient></defs>
<circle cx="51" cy="51" r="28.7" fill="url(#lg)"/>
<path d="M37 26.2A28.7 28.7 0 0 1 51 22.3A28.7 28.7 0 0 1 51 79.7A28.7 28.7 0 0 1 37.5 76.2C56 73 70 64 70 51.5C70 38 56 29 37 26.2Z" fill="#5282ff"/>
<path d="M23.8 41.3C36 40.5 48 41 56 44C63 46.5 67 49 67 51.5C67 54 63 56.5 56 59C48 61.5 36 62 23.8 61.2A28.7 28.7 0 0 1 23.8 41.3Z" fill="#5282ff"/>
</svg>
<div class="a" style="left:0px;top:0px;width:2560px;height:3px;background:#cbcbcb;"></div>
<div class="a" style="left:0px;top:1437px;width:2560px;height:3px;background:#cbcbcb;"></div>
<div class="a" style="left:0px;top:0px;width:3px;height:1440px;background:#cbcbcb;"></div>
<div class="a" style="left:2557px;top:0px;width:3px;height:1440px;background:#cbcbcb;"></div></body></html>
